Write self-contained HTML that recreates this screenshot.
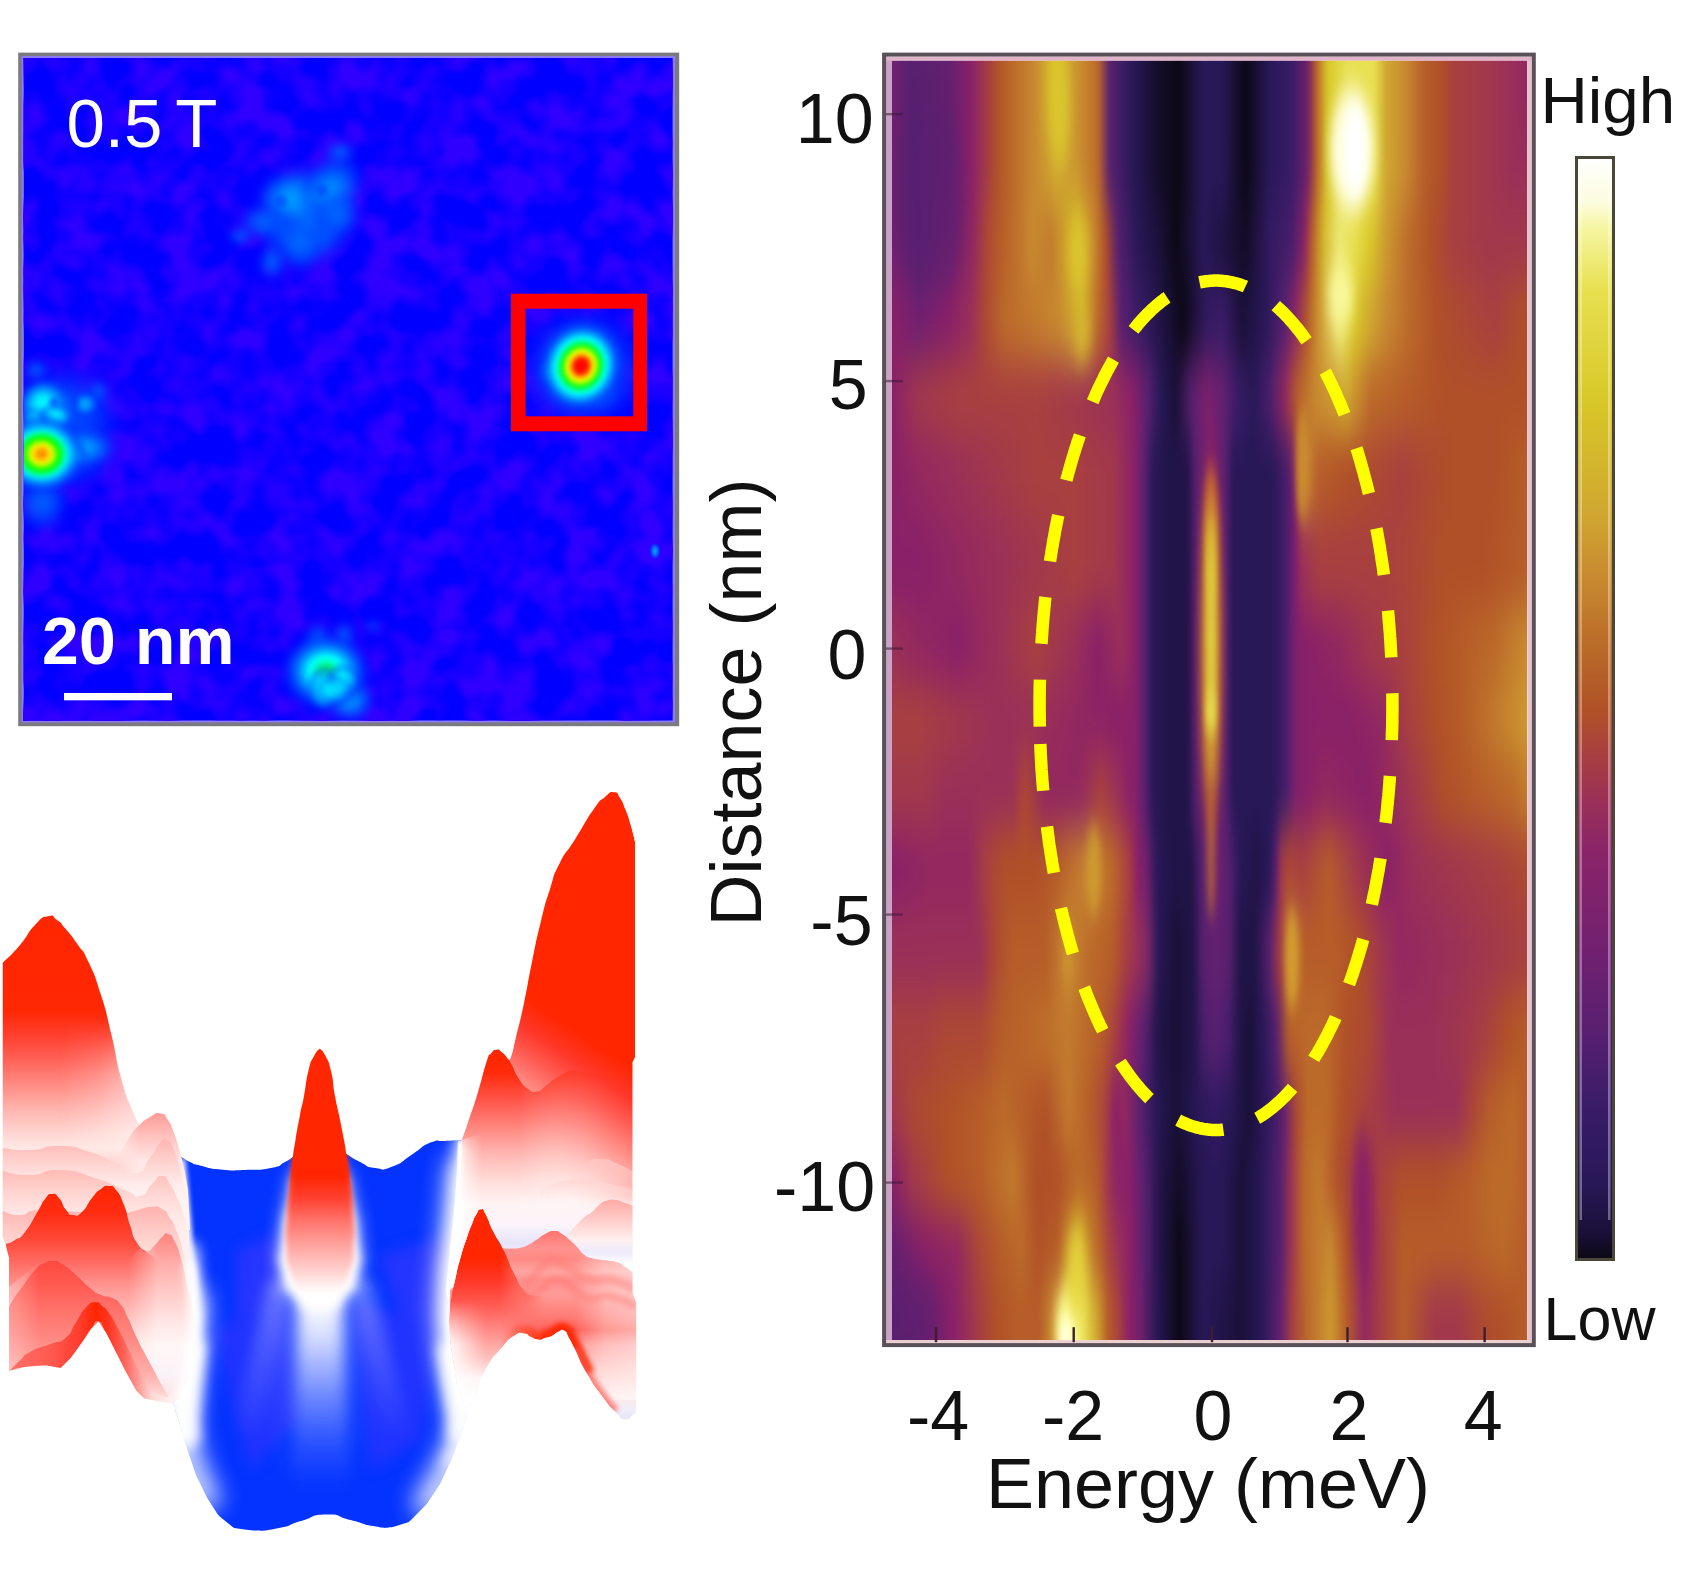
<!DOCTYPE html>
<html><head><meta charset="utf-8"><title>figure</title>
<style>
html,body{margin:0;padding:0;background:#fff;}
body{width:1696px;height:1582px;overflow:hidden;}
svg{display:block;}
text{font-family:"Liberation Sans",sans-serif;}
</style></head><body>
<svg width="1696" height="1582" viewBox="0 0 1696 1582">
<rect width="1696" height="1582" fill="#fff"/>
<defs><filter id="fb1" color-interpolation-filters="sRGB" filterUnits="userSpaceOnUse" x="-40" y="760" width="760" height="820"><feGaussianBlur stdDeviation="1.2"/></filter><filter id="fb2" color-interpolation-filters="sRGB" filterUnits="userSpaceOnUse" x="-40" y="760" width="760" height="820"><feGaussianBlur stdDeviation="2.5"/></filter><filter id="fb4" color-interpolation-filters="sRGB" filterUnits="userSpaceOnUse" x="-40" y="760" width="760" height="820"><feGaussianBlur stdDeviation="4.5"/></filter><filter id="fb7" color-interpolation-filters="sRGB" filterUnits="userSpaceOnUse" x="-40" y="760" width="760" height="820"><feGaussianBlur stdDeviation="7"/></filter><filter id="fb12" color-interpolation-filters="sRGB" filterUnits="userSpaceOnUse" x="-40" y="760" width="760" height="820"><feGaussianBlur stdDeviation="12"/></filter><clipPath id="cbasin"><path d="M180.0,1156.0C183.3,1158.0 183.3,1158.8 190.0,1162.0C196.7,1165.2 189.8,1163.0 200.0,1165.5C210.2,1168.0 205.7,1168.1 220.7,1169.6C235.7,1171.1 228.2,1170.5 245.0,1170.0C261.8,1169.5 257.7,1170.7 271.0,1168.0C284.3,1165.3 277.3,1166.0 285.0,1162.0C292.7,1158.0 291.0,1158.0 294.0,1156.0L345,1153C350.0,1156.0 350.0,1157.0 360.0,1162.0C370.0,1167.0 364.2,1166.5 375.0,1168.0C385.8,1169.5 379.9,1171.3 392.5,1166.6C405.1,1161.9 400.1,1162.0 412.8,1154.0C425.5,1146.0 419.8,1146.9 430.5,1142.6C441.2,1138.3 434.5,1141.7 445.0,1141.0C455.5,1140.3 456.3,1140.7 462.0,1140.5L475.0,1170.0L473.0,1200.0L469.0,1240.0L464.0,1290.0L464.0,1340.0L471.0,1385.0L480.0,1412.0L490,1368C487.6,1371.7 488.9,1367.1 482.8,1379.0C476.7,1390.9 478.3,1386.6 471.6,1403.6C464.9,1420.6 469.3,1411.3 462.6,1430.0C455.9,1448.7 459.0,1441.6 451.5,1459.6C444.0,1477.6 448.2,1469.2 440.0,1484.0C431.8,1498.8 437.1,1491.3 426.8,1504.0C416.5,1516.7 420.3,1514.3 409.0,1522.0C397.7,1529.7 405.0,1525.7 393.0,1527.0C381.0,1528.3 387.1,1528.3 373.0,1526.0C358.9,1523.7 366.3,1523.8 350.6,1520.0C334.9,1516.2 342.5,1514.2 326.0,1514.5C309.5,1514.8 316.7,1516.5 301.0,1521.0C285.3,1525.5 295.3,1524.8 279.0,1528.0C262.7,1531.2 267.0,1530.6 252.0,1530.6C237.0,1530.6 245.2,1533.0 234.0,1528.0C222.8,1523.0 227.4,1525.7 218.4,1515.6C209.4,1505.5 214.5,1511.2 207.0,1497.7C199.5,1484.2 203.4,1493.7 196.0,1475.0C188.6,1456.3 191.1,1461.4 184.8,1441.7C178.5,1422.0 181.9,1429.9 177.0,1416.0C172.1,1402.1 179.0,1412.0 170.0,1400.0C161.0,1388.0 156.7,1386.7 150.0,1380.0L166.0,1380.0L176.0,1340.0L179.0,1300.0L176.0,1250.0L172.0,1200.0Z"/></clipPath><linearGradient id="gstreak" gradientUnits="userSpaceOnUse" x1="0" y1="1290" x2="0" y2="1500"><stop offset="0.0000" stop-color="#ffffff" stop-opacity="1"/><stop offset="0.1905" stop-color="#ffffff" stop-opacity="0.8"/><stop offset="0.3571" stop-color="#ffffff" stop-opacity="0.52"/><stop offset="0.5238" stop-color="#ffffff" stop-opacity="0.3"/><stop offset="0.7143" stop-color="#ffffff" stop-opacity="0.12"/><stop offset="0.9048" stop-color="#ffffff" stop-opacity="0.02"/><stop offset="1.0000" stop-color="#ffffff" stop-opacity="0"/></linearGradient><linearGradient id="gstreak2" gradientUnits="userSpaceOnUse" x1="0" y1="1280" x2="0" y2="1440"><stop offset="0.0000" stop-color="#ffffff" stop-opacity="0.32"/><stop offset="0.5000" stop-color="#ffffff" stop-opacity="0.16"/><stop offset="1.0000" stop-color="#ffffff" stop-opacity="0"/></linearGradient><linearGradient id="gpeak" gradientUnits="userSpaceOnUse" x1="0" y1="1049" x2="0" y2="1305"><stop offset="0.0000" stop-color="#ff2600"/><stop offset="0.4961" stop-color="#ff2600"/><stop offset="0.5820" stop-color="#ff4030"/><stop offset="0.6758" stop-color="#ff766e"/><stop offset="0.7734" stop-color="#ffa6a2"/><stop offset="0.8711" stop-color="#ffd4d2"/><stop offset="0.9531" stop-color="#ffffff"/><stop offset="1.0000" stop-color="#ffffff"/></linearGradient><clipPath id="cpk"><rect x="250" y="1000" width="140" height="205"/></clipPath><linearGradient id="gpkfade" gradientUnits="userSpaceOnUse" x1="0" y1="1160" x2="0" y2="1205"><stop offset="0" stop-color="#fff"/><stop offset="1" stop-color="#000"/></linearGradient><mask id="mpk" maskUnits="userSpaceOnUse" x="250" y="1000" width="140" height="260"><rect x="250" y="1000" width="140" height="260" fill="url(#gpkfade)"/></mask><linearGradient id="ghill" gradientUnits="userSpaceOnUse" x1="575" y1="790" x2="339.7" y2="1142.8"><stop offset="0.0000" stop-color="#ff2600"/><stop offset="0.4706" stop-color="#ff2600"/><stop offset="0.5333" stop-color="#ff382a"/><stop offset="0.5882" stop-color="#ff5e56"/><stop offset="0.6392" stop-color="#ff8880"/><stop offset="0.6882" stop-color="#ffaeaa"/><stop offset="0.7373" stop-color="#ffd2ce"/><stop offset="0.7784" stop-color="#ffe8e6"/><stop offset="0.8118" stop-color="#fff4f4"/><stop offset="0.8529" stop-color="#fbf4fa"/><stop offset="0.8882" stop-color="#e6e4fa"/><stop offset="0.9059" stop-color="#eeeafc"/><stop offset="0.9294" stop-color="#ffffff"/><stop offset="1.0000" stop-color="#ffffff"/></linearGradient><linearGradient id="gsmall" gradientUnits="userSpaceOnUse" x1="0" y1="1050" x2="0" y2="1300"><stop offset="0.0000" stop-color="#ff2600"/><stop offset="0.0880" stop-color="#ff2a08"/><stop offset="0.2000" stop-color="#ff544a"/><stop offset="0.3120" stop-color="#ff8880"/><stop offset="0.4160" stop-color="#ffb6b2"/><stop offset="0.5160" stop-color="#ffdad6"/><stop offset="0.6160" stop-color="#fff4f4"/><stop offset="0.7000" stop-color="#fbf4fa"/><stop offset="0.7720" stop-color="#e6e4fa"/><stop offset="0.8080" stop-color="#eeeafc"/><stop offset="0.8560" stop-color="#ffffff"/><stop offset="1.0000" stop-color="#ffffff"/></linearGradient><linearGradient id="gfoldm" gradientUnits="userSpaceOnUse" x1="520" y1="0" x2="600" y2="0"><stop offset="0" stop-color="#fff"/><stop offset="1" stop-color="#000"/></linearGradient><mask id="mfold" maskUnits="userSpaceOnUse" x="430" y="1000" width="220" height="320"><rect x="430" y="1000" width="220" height="320" fill="url(#gfoldm)"/></mask><linearGradient id="gfootR" gradientUnits="userSpaceOnUse" x1="448" y1="0" x2="482" y2="0"><stop offset="0.0000" stop-color="#ffffff" stop-opacity="1"/><stop offset="0.3529" stop-color="#ffffff" stop-opacity="0.9"/><stop offset="0.5882" stop-color="#ffffff" stop-opacity="0.45"/><stop offset="1.0000" stop-color="#ffffff" stop-opacity="0"/></linearGradient><clipPath id="cfootR"><path d="M440,1141 L461.5,1141 L466,1128 L520,1128 L520,1300 L440,1300 Z"/></clipPath><linearGradient id="gfootRv" gradientUnits="userSpaceOnUse" x1="0" y1="1120" x2="0" y2="1300"><stop offset="0.0000" stop-color="#000000"/><stop offset="0.1667" stop-color="#ffffff"/><stop offset="1.0000" stop-color="#ffffff"/></linearGradient><mask id="mfootR" maskUnits="userSpaceOnUse" x="430" y="1100" width="100" height="220"><rect x="430" y="1100" width="100" height="220" fill="url(#gfootRv)"/></mask><linearGradient id="gband" gradientUnits="userSpaceOnUse" x1="0" y1="1196" x2="0" y2="1300"><stop offset="0.0000" stop-color="#fff4f4" stop-opacity="0"/><stop offset="0.1538" stop-color="#fdf4f6" stop-opacity="1"/><stop offset="0.2788" stop-color="#fbf4fa" stop-opacity="1"/><stop offset="0.4519" stop-color="#e6e4fa" stop-opacity="1"/><stop offset="0.5385" stop-color="#eeeafc" stop-opacity="1"/><stop offset="0.6538" stop-color="#ffffff" stop-opacity="1"/><stop offset="1.0000" stop-color="#ffffff" stop-opacity="1"/></linearGradient><linearGradient id="gr1" gradientUnits="userSpaceOnUse" x1="0" y1="1159" x2="0" y2="1185"><stop offset="0.0000" stop-color="#ffc4c0" stop-opacity="0.9"/><stop offset="1.0000" stop-color="#ffe0dc" stop-opacity="0"/></linearGradient><linearGradient id="gr1b" gradientUnits="userSpaceOnUse" x1="0" y1="1176" x2="0" y2="1200"><stop offset="0.0000" stop-color="#ffd0cc" stop-opacity="0.9"/><stop offset="1.0000" stop-color="#ffe8e6" stop-opacity="0"/></linearGradient><linearGradient id="gr2" gradientUnits="userSpaceOnUse" x1="0" y1="1200" x2="0" y2="1256"><stop offset="0.0000" stop-color="#ffaaa6"/><stop offset="0.3929" stop-color="#ffd0cc"/><stop offset="0.7143" stop-color="#fff0f0"/><stop offset="0.8929" stop-color="#f0ecfc"/><stop offset="1.0000" stop-color="#f0ecfc" stop-opacity="0"/></linearGradient><linearGradient id="gr3" gradientUnits="userSpaceOnUse" x1="0" y1="1231" x2="0" y2="1420"><stop offset="0.0000" stop-color="#ff746e"/><stop offset="0.0899" stop-color="#ff928e"/><stop offset="0.1481" stop-color="#ff8a84"/><stop offset="0.2169" stop-color="#ffa6a2"/><stop offset="0.2593" stop-color="#ff928e"/><stop offset="0.3280" stop-color="#ff9c98"/><stop offset="0.3968" stop-color="#ff8a84"/><stop offset="0.4603" stop-color="#ff7a74"/><stop offset="0.5238" stop-color="#ff6058"/><stop offset="0.6032" stop-color="#ff9c98"/><stop offset="0.7302" stop-color="#ffc4c0"/><stop offset="0.8624" stop-color="#ffe8e8"/><stop offset="0.9471" stop-color="#f0eefa"/><stop offset="1.0000" stop-color="#e4e4fa"/></linearGradient><clipPath id="cr3"><path d="M500.0,1249.0C501.2,1248.9 499.7,1248.8 503.7,1248.6C507.7,1248.4 506.1,1248.9 512.0,1248.5C517.9,1248.1 515.7,1248.7 521.4,1247.4C527.1,1246.1 523.9,1247.0 529.0,1244.5C534.1,1242.0 531.3,1243.3 536.6,1239.8C541.9,1236.3 539.1,1236.9 545.0,1234.0C550.9,1231.1 548.6,1231.0 554.3,1231.0C560.0,1231.0 557.0,1231.1 562.0,1234.0C567.0,1236.9 564.4,1235.5 569.4,1239.8C574.4,1244.1 571.9,1241.9 577.0,1247.0C582.1,1252.1 579.3,1251.2 584.6,1255.0C589.9,1258.8 587.1,1256.8 593.0,1258.5C598.9,1260.2 596.6,1259.2 602.3,1260.0C608.0,1260.8 604.9,1260.1 610.0,1261.0C615.1,1261.9 612.5,1260.6 617.5,1262.6C622.5,1264.6 619.9,1263.6 625.0,1267.0C630.1,1270.4 630.1,1270.8 632.7,1272.7L632.7,1293 L636.5,1303 L636.5,1412L634,1414C631.0,1415.8 631.3,1420.1 625.0,1419.4C618.7,1418.7 622.6,1419.4 615.0,1411.8C607.4,1404.2 611.6,1409.3 602.3,1396.6C593.0,1383.9 596.3,1389.8 587.0,1373.8C577.7,1357.8 580.5,1360.4 574.5,1348.5C568.5,1336.6 572.4,1343.9 569.0,1338.0C565.6,1332.1 568.1,1332.8 564.4,1330.8C560.7,1328.8 562.2,1330.3 558.0,1332.0C553.8,1333.7 556.0,1334.0 551.7,1336.0C547.4,1338.0 549.2,1336.8 545.0,1338.0C540.8,1339.2 543.7,1340.0 539.0,1339.7C534.3,1339.4 536.0,1339.1 531.0,1337.0C526.0,1334.9 529.7,1333.7 524.0,1333.4C518.3,1333.1 521.5,1331.0 513.8,1336.0C506.1,1341.0 510.3,1337.6 501.0,1348.5C491.7,1359.4 494.4,1353.6 486.0,1368.8C477.6,1384.0 481.9,1379.6 475.9,1394.0C469.9,1408.4 470.6,1406.0 468.0,1412.0L466,1412 L457,1385 L450,1340 L450,1290 L500,1249 Z"/></clipPath><linearGradient id="gr3h" gradientUnits="userSpaceOnUse" x1="575" y1="0" x2="640" y2="0"><stop offset="0.0000" stop-color="#ffffff" stop-opacity="0"/><stop offset="0.4615" stop-color="#ffffff" stop-opacity="0.35"/><stop offset="1.0000" stop-color="#ffffff" stop-opacity="0.5"/></linearGradient><linearGradient id="gr4" gradientUnits="userSpaceOnUse" x1="0" y1="1209" x2="0" y2="1400"><stop offset="0.0000" stop-color="#ff2600"/><stop offset="0.2565" stop-color="#ff2600"/><stop offset="0.3874" stop-color="#ff3a2c"/><stop offset="0.5183" stop-color="#ff6058"/><stop offset="0.6492" stop-color="#ff908c"/><stop offset="0.7801" stop-color="#ffc0bc"/><stop offset="0.8848" stop-color="#fff4f4"/><stop offset="1.0000" stop-color="#ffffff"/></linearGradient><linearGradient id="gr4m" gradientUnits="userSpaceOnUse" x1="500" y1="0" x2="545" y2="0"><stop offset="0" stop-color="#fff"/><stop offset="1" stop-color="#000"/></linearGradient><mask id="mr4" maskUnits="userSpaceOnUse" x="430" y="1190" width="140" height="240"><rect x="430" y="1190" width="140" height="240" fill="url(#gr4m)"/></mask><clipPath id="cr3x"><path d="M449.0,1322.0C449.7,1314.7 448.8,1314.7 451.0,1300.0C453.2,1285.3 452.2,1292.7 455.5,1278.0C458.8,1263.3 457.2,1269.5 461.0,1256.0C464.8,1242.5 463.3,1248.1 467.0,1237.4C470.7,1226.7 469.0,1231.5 472.0,1224.0C475.0,1216.5 473.0,1219.9 476.0,1215.0C479.0,1210.1 477.7,1209.3 481.0,1209.3C484.3,1209.3 481.8,1207.4 486.0,1215.0C490.2,1222.6 487.7,1220.3 493.6,1232.0C499.5,1243.7 497.0,1236.4 503.7,1250.0C510.4,1263.6 507.0,1259.4 513.8,1272.7C520.6,1286.0 517.3,1282.2 524.0,1290.0C530.7,1297.8 530.7,1294.0 534.0,1296.0L545,1296 L545,1345L539,1339.7 L531,1337 L524,1333.4 L513.8,1336 L501,1348.5 L486,1368.8 L475.9,1394 L468,1412 L466,1412 L457,1385 L450,1340 Z"/></clipPath><linearGradient id="gfootR4" gradientUnits="userSpaceOnUse" x1="446" y1="0" x2="486" y2="0"><stop offset="0.0000" stop-color="#ffffff" stop-opacity="1"/><stop offset="0.2500" stop-color="#ffffff" stop-opacity="0.8"/><stop offset="0.5500" stop-color="#ffffff" stop-opacity="0.45"/><stop offset="1.0000" stop-color="#ffffff" stop-opacity="0"/></linearGradient><linearGradient id="gfootR4v" gradientUnits="userSpaceOnUse" x1="0" y1="1300" x2="0" y2="1420"><stop offset="0.0000" stop-color="#000000"/><stop offset="0.3750" stop-color="#ffffff"/><stop offset="1.0000" stop-color="#ffffff"/></linearGradient><mask id="mfootR4" maskUnits="userSpaceOnUse" x="430" y="1290" width="80" height="140"><rect x="430" y="1290" width="80" height="140" fill="url(#gfootR4v)"/></mask><linearGradient id="ghillA" gradientUnits="userSpaceOnUse" x1="0" y1="916" x2="0" y2="1260"><stop offset="0.0000" stop-color="#ff2600"/><stop offset="0.2791" stop-color="#ff2804"/><stop offset="0.3488" stop-color="#ff4030"/><stop offset="0.4186" stop-color="#ff6258"/><stop offset="0.4913" stop-color="#ff8c84"/><stop offset="0.5581" stop-color="#ffb2ac"/><stop offset="0.6279" stop-color="#ffd4d0"/><stop offset="0.6744" stop-color="#ffe8e4"/><stop offset="0.7238" stop-color="#ffd4d0"/><stop offset="1.0000" stop-color="#ffc4c0"/></linearGradient><linearGradient id="gflankA" gradientUnits="userSpaceOnUse" x1="60" y1="0" x2="145" y2="0"><stop offset="0.0000" stop-color="#ffffff" stop-opacity="0"/><stop offset="0.4706" stop-color="#ffffff" stop-opacity="0.18"/><stop offset="0.7647" stop-color="#ffffff" stop-opacity="0.4"/><stop offset="1.0000" stop-color="#ffffff" stop-opacity="0.55"/></linearGradient><clipPath id="chillA"><path d="M2.5,963.0C8.3,957.0 9.2,957.7 20.0,945.0C30.8,932.3 25.7,934.6 35.0,925.0C44.3,915.4 40.7,918.0 48.0,916.3C55.3,914.6 51.1,915.8 57.0,920.0C62.9,924.2 58.7,920.7 65.7,929.0C72.7,937.3 70.4,934.0 78.0,945.0C85.6,956.0 80.8,945.3 88.5,962.0C96.2,978.7 93.5,971.3 101.0,995.0C108.5,1018.7 104.3,1005.3 111.0,1033.0C117.7,1060.7 114.2,1052.8 121.0,1078.0C127.8,1103.2 125.5,1093.3 131.5,1108.6C137.5,1123.9 136.5,1118.9 139.0,1124.0L139,1260 L2.5,1260 Z"/></clipPath><linearGradient id="gflankAv" gradientUnits="userSpaceOnUse" x1="0" y1="1020" x2="0" y2="1160"><stop offset="0.0000" stop-color="#000000"/><stop offset="0.3929" stop-color="#ffffff"/><stop offset="0.8214" stop-color="#ffffff"/><stop offset="1.0000" stop-color="#000000"/></linearGradient><mask id="mflankA" maskUnits="userSpaceOnUse" x="0" y="1000" width="200" height="200"><rect x="0" y="1000" width="200" height="200" fill="url(#gflankAv)"/></mask><linearGradient id="gL1" gradientUnits="userSpaceOnUse" x1="0" y1="1113" x2="0" y2="1185"><stop offset="0.0000" stop-color="#ff9a98"/><stop offset="0.3056" stop-color="#ffc0bc"/><stop offset="0.6528" stop-color="#ffe6e4"/><stop offset="1.0000" stop-color="#fff2f0"/></linearGradient><linearGradient id="gL1m" gradientUnits="userSpaceOnUse" x1="112" y1="0" x2="139" y2="0"><stop offset="0" stop-color="#000"/><stop offset="1" stop-color="#fff"/></linearGradient><mask id="mL1" maskUnits="userSpaceOnUse" x="100" y="1090" width="120" height="160"><rect x="100" y="1090" width="120" height="160" fill="url(#gL1m)"/></mask><linearGradient id="gL2" gradientUnits="userSpaceOnUse" x1="0" y1="1138" x2="0" y2="1200"><stop offset="0.0000" stop-color="#ffb4b0"/><stop offset="0.3548" stop-color="#ffd0cc"/><stop offset="0.7581" stop-color="#ffeceb"/><stop offset="1.0000" stop-color="#fff4f3"/></linearGradient><linearGradient id="gL3" gradientUnits="userSpaceOnUse" x1="0" y1="1168" x2="0" y2="1240"><stop offset="0.0000" stop-color="#ffb8b4"/><stop offset="0.3056" stop-color="#ffd2ce"/><stop offset="0.6528" stop-color="#ffe8e6"/><stop offset="1.0000" stop-color="#fff0ee"/></linearGradient><linearGradient id="gL4" gradientUnits="userSpaceOnUse" x1="0" y1="1205" x2="0" y2="1270"><stop offset="0.0000" stop-color="#ffb0ac"/><stop offset="0.3538" stop-color="#ffc8c4"/><stop offset="0.6923" stop-color="#ffdcd8"/><stop offset="1.0000" stop-color="#ffe8e6"/></linearGradient><linearGradient id="gF" gradientUnits="userSpaceOnUse" x1="0" y1="1186" x2="0" y2="1405"><stop offset="0.0000" stop-color="#ff2600"/><stop offset="0.1187" stop-color="#ff2c10"/><stop offset="0.2466" stop-color="#ff4838"/><stop offset="0.3607" stop-color="#ff7068"/><stop offset="0.4749" stop-color="#ff9c98"/><stop offset="0.6119" stop-color="#ffc4c0"/><stop offset="0.7260" stop-color="#ffe8e8"/><stop offset="0.8174" stop-color="#fff6f6"/><stop offset="0.9087" stop-color="#ffe8e8"/><stop offset="1.0000" stop-color="#ffd4d4"/></linearGradient><linearGradient id="gF2" gradientUnits="userSpaceOnUse" x1="0" y1="1234" x2="0" y2="1405"><stop offset="0.0000" stop-color="#ff8480"/><stop offset="0.1520" stop-color="#ffa8a4"/><stop offset="0.3275" stop-color="#ffc8c4"/><stop offset="0.5029" stop-color="#ffe4e4"/><stop offset="0.6491" stop-color="#fff6f6"/><stop offset="0.8246" stop-color="#fbf2f8"/><stop offset="1.0000" stop-color="#ffdede"/></linearGradient><linearGradient id="gF2m" gradientUnits="userSpaceOnUse" x1="128" y1="0" x2="158" y2="0"><stop offset="0" stop-color="#000"/><stop offset="1" stop-color="#fff"/></linearGradient><mask id="mF2" maskUnits="userSpaceOnUse" x="100" y="1200" width="120" height="240"><rect x="100" y="1200" width="120" height="240" fill="url(#gF2m)"/></mask><linearGradient id="gG1" gradientUnits="userSpaceOnUse" x1="0" y1="1261" x2="0" y2="1410"><stop offset="0.0000" stop-color="#ff4a40"/><stop offset="0.1611" stop-color="#ff5a50"/><stop offset="0.2953" stop-color="#ff6e66"/><stop offset="0.5302" stop-color="#ff8a84"/><stop offset="0.7651" stop-color="#ffb0ac"/><stop offset="0.9329" stop-color="#ffe0e0"/><stop offset="1.0000" stop-color="#fff0f0"/></linearGradient><linearGradient id="gG1h" gradientUnits="userSpaceOnUse" x1="5" y1="0" x2="40" y2="0"><stop offset="0.0000" stop-color="#ffffff" stop-opacity="0.3"/><stop offset="1.0000" stop-color="#ffffff" stop-opacity="0"/></linearGradient><linearGradient id="gG2" gradientUnits="userSpaceOnUse" x1="10" y1="0" x2="172" y2="0"><stop offset="0.0000" stop-color="#ff7068"/><stop offset="0.2469" stop-color="#ff5a50"/><stop offset="0.4321" stop-color="#ff3c2c"/><stop offset="0.5309" stop-color="#ff2600"/><stop offset="0.6049" stop-color="#ff3420"/><stop offset="0.7099" stop-color="#ff665c"/><stop offset="0.8025" stop-color="#ffa29c"/><stop offset="0.8765" stop-color="#ffd8d4"/><stop offset="1.0000" stop-color="#fff2f2"/></linearGradient></defs>
<g><path d="M180.0,1156.0C183.3,1158.0 183.3,1158.8 190.0,1162.0C196.7,1165.2 189.8,1163.0 200.0,1165.5C210.2,1168.0 205.7,1168.1 220.7,1169.6C235.7,1171.1 228.2,1170.5 245.0,1170.0C261.8,1169.5 257.7,1170.7 271.0,1168.0C284.3,1165.3 277.3,1166.0 285.0,1162.0C292.7,1158.0 291.0,1158.0 294.0,1156.0L345,1153C350.0,1156.0 350.0,1157.0 360.0,1162.0C370.0,1167.0 364.2,1166.5 375.0,1168.0C385.8,1169.5 379.9,1171.3 392.5,1166.6C405.1,1161.9 400.1,1162.0 412.8,1154.0C425.5,1146.0 419.8,1146.9 430.5,1142.6C441.2,1138.3 434.5,1141.7 445.0,1141.0C455.5,1140.3 456.3,1140.7 462.0,1140.5L475.0,1170.0L473.0,1200.0L469.0,1240.0L464.0,1290.0L464.0,1340.0L471.0,1385.0L480.0,1412.0L490,1368C487.6,1371.7 488.9,1367.1 482.8,1379.0C476.7,1390.9 478.3,1386.6 471.6,1403.6C464.9,1420.6 469.3,1411.3 462.6,1430.0C455.9,1448.7 459.0,1441.6 451.5,1459.6C444.0,1477.6 448.2,1469.2 440.0,1484.0C431.8,1498.8 437.1,1491.3 426.8,1504.0C416.5,1516.7 420.3,1514.3 409.0,1522.0C397.7,1529.7 405.0,1525.7 393.0,1527.0C381.0,1528.3 387.1,1528.3 373.0,1526.0C358.9,1523.7 366.3,1523.8 350.6,1520.0C334.9,1516.2 342.5,1514.2 326.0,1514.5C309.5,1514.8 316.7,1516.5 301.0,1521.0C285.3,1525.5 295.3,1524.8 279.0,1528.0C262.7,1531.2 267.0,1530.6 252.0,1530.6C237.0,1530.6 245.2,1533.0 234.0,1528.0C222.8,1523.0 227.4,1525.7 218.4,1515.6C209.4,1505.5 214.5,1511.2 207.0,1497.7C199.5,1484.2 203.4,1493.7 196.0,1475.0C188.6,1456.3 191.1,1461.4 184.8,1441.7C178.5,1422.0 181.9,1429.9 177.0,1416.0C172.1,1402.1 179.0,1412.0 170.0,1400.0C161.0,1388.0 156.7,1386.7 150.0,1380.0L166.0,1380.0L176.0,1340.0L179.0,1300.0L176.0,1250.0L172.0,1200.0Z" fill="#0433ff" />
<g clip-path="url(#cbasin)" filter="url(#fb7)" opacity="0.55">
<path d="M238,1250 L280,1232 L286,1300 L262,1312 L236,1330 Z" fill="#4438ff" />
<path d="M215,1330 L290,1300 L296,1420 L250,1470 Z" fill="#3a34ff" />
<path d="M380,1255 L452,1235 L448,1330 L400,1318 Z" fill="#4038ff" />
<path d="M352,1300 L440,1330 L420,1440 L372,1470 Z" fill="#3a34ff" />
</g>
<g clip-path="url(#cbasin)">
<path d="M182.0,1159.0C183.3,1172.7 183.3,1169.7 186.0,1200.0C188.7,1230.3 187.7,1216.7 190.0,1250.0C192.3,1283.3 193.0,1270.0 193.0,1300.0C193.0,1330.0 194.3,1313.3 190.0,1340.0C185.7,1366.7 186.0,1358.7 180.0,1380.0C174.0,1401.3 174.7,1396.0 172.0,1404.0" fill="none" stroke="#fff" stroke-width="6" filter="url(#fb2)"/>
<path d="M190.0,1250.0C191.0,1266.7 192.7,1270.0 193.0,1300.0C193.3,1330.0 193.0,1315.0 191.0,1340.0C189.0,1365.0 189.3,1353.7 187.0,1375.0C184.7,1396.3 185.3,1387.3 184.0,1404.0C182.7,1420.7 182.7,1412.0 183.0,1425.0C183.3,1438.0 184.3,1437.0 185.0,1443.0" fill="none" stroke="#fff" stroke-width="16" stroke-linecap="round" filter="url(#fb7)" opacity="0.9"/>
<path d="M191.0,1340.0C189.7,1351.7 189.3,1353.7 187.0,1375.0C184.7,1396.3 185.3,1387.3 184.0,1404.0C182.7,1420.7 182.7,1412.0 183.0,1425.0C183.3,1438.0 184.3,1437.0 185.0,1443.0" fill="none" stroke="#fff" stroke-width="30" filter="url(#fb7)" opacity="0.95"/>
<path d="M193.0,1300.0C192.3,1313.3 193.0,1315.0 191.0,1340.0C189.0,1365.0 189.3,1353.7 187.0,1375.0C184.7,1396.3 185.3,1387.3 184.0,1404.0C182.7,1420.7 182.7,1412.0 183.0,1425.0C183.3,1438.0 181.0,1426.0 185.0,1443.0C189.0,1460.0 188.0,1457.7 195.0,1476.0C202.0,1494.3 202.3,1490.7 206.0,1498.0" fill="none" stroke="#fff" stroke-width="26" stroke-linecap="round" filter="url(#fb12)" opacity="0.9"/>
<path d="M462.0,1141.0C461.7,1150.7 462.0,1150.3 461.0,1170.0C460.0,1189.7 461.0,1176.7 459.0,1200.0C457.0,1223.3 458.0,1210.0 455.0,1240.0C452.0,1270.0 451.7,1256.7 450.0,1290.0C448.3,1323.3 447.7,1308.3 450.0,1340.0C452.3,1371.7 451.7,1361.0 457.0,1385.0C462.3,1409.0 463.0,1403.0 466.0,1412.0" fill="none" stroke="#fff" stroke-width="6" filter="url(#fb2)"/>
<path d="M462.0,1141.0C461.7,1150.7 462.0,1150.3 461.0,1170.0C460.0,1189.7 461.0,1176.7 459.0,1200.0C457.0,1223.3 458.0,1210.0 455.0,1240.0C452.0,1270.0 451.3,1255.7 450.0,1290.0C448.7,1324.3 448.0,1308.3 451.0,1343.0C454.0,1377.7 455.0,1368.3 459.0,1394.0C463.0,1419.7 462.3,1404.3 463.0,1420.0C463.7,1435.7 464.8,1427.3 461.0,1441.0C457.2,1454.7 454.7,1454.3 451.5,1461.0" fill="none" stroke="#fff" stroke-width="16" stroke-linecap="round" filter="url(#fb7)" opacity="0.8"/>
<path d="M451.0,1343.0C453.7,1360.0 455.0,1368.3 459.0,1394.0C463.0,1419.7 462.3,1404.3 463.0,1420.0C463.7,1435.7 461.7,1434.0 461.0,1441.0" fill="none" stroke="#fff" stroke-width="28" filter="url(#fb7)" opacity="0.9"/>
<path d="M461.0,1170.0C460.3,1180.0 461.0,1176.7 459.0,1200.0C457.0,1223.3 458.0,1210.0 455.0,1240.0C452.0,1270.0 451.3,1255.7 450.0,1290.0C448.7,1324.3 448.0,1308.3 451.0,1343.0C454.0,1377.7 455.0,1368.3 459.0,1394.0C463.0,1419.7 462.3,1404.3 463.0,1420.0C463.7,1435.7 464.8,1427.3 461.0,1441.0C457.2,1454.7 458.5,1446.3 451.5,1461.0C444.5,1475.7 447.8,1471.0 440.0,1485.0C432.2,1499.0 432.0,1497.0 428.0,1503.0" fill="none" stroke="#fff" stroke-width="28" stroke-linecap="round" filter="url(#fb12)" opacity="0.9"/>
<path d="M320.0,1150.0C312.7,1156.7 308.7,1153.3 298.0,1170.0C287.3,1186.7 293.7,1176.7 288.0,1200.0C282.3,1223.3 283.3,1216.0 281.0,1240.0C278.7,1264.0 276.7,1252.7 281.0,1272.0C285.3,1291.3 281.0,1285.3 294.0,1298.0C307.0,1310.7 302.7,1310.0 320.0,1310.0C337.3,1310.0 333.0,1310.7 346.0,1298.0C359.0,1285.3 354.7,1291.3 359.0,1272.0C363.3,1252.7 361.3,1264.0 359.0,1240.0C356.7,1216.0 357.7,1223.3 352.0,1200.0C346.3,1176.7 352.7,1186.7 342.0,1170.0C331.3,1153.3 327.3,1156.7 320.0,1150.0Z" fill="#fff" filter="url(#fb4)"/>
<path d="M320.0,1150.0C312.7,1156.7 308.7,1153.3 298.0,1170.0C287.3,1186.7 293.7,1176.7 288.0,1200.0C282.3,1223.3 283.3,1216.0 281.0,1240.0C278.7,1264.0 276.7,1252.7 281.0,1272.0C285.3,1291.3 281.0,1285.3 294.0,1298.0C307.0,1310.7 302.7,1310.0 320.0,1310.0C337.3,1310.0 333.0,1310.7 346.0,1298.0C359.0,1285.3 354.7,1291.3 359.0,1272.0C363.3,1252.7 361.3,1264.0 359.0,1240.0C356.7,1216.0 357.7,1223.3 352.0,1200.0C346.3,1176.7 352.7,1186.7 342.0,1170.0C331.3,1153.3 327.3,1156.7 320.0,1150.0Z" fill="none" stroke="#fff" stroke-width="12" filter="url(#fb7)" opacity="0.4"/>
<path d="M300,1290 L340,1290 L350,1500 L292,1500 Z" fill="url(#gstreak)" filter="url(#fb7)"/>
<path d="M290,1300 L350,1300 L366,1480 L276,1480 Z" fill="url(#gstreak)" filter="url(#fb12)" opacity="0.45"/>
<path d="M268,1280 L290,1280 L262,1440 L232,1440 Z" fill="url(#gstreak2)" filter="url(#fb7)"/>
<path d="M350,1280 L372,1280 L412,1440 L382,1440 Z" fill="url(#gstreak2)" filter="url(#fb7)"/>
</g>
<g clip-path="url(#cbasin)">
<path d="M319.8,1048.5C317.9,1051.0 317.8,1048.5 314.0,1056.0C310.2,1063.5 311.7,1057.7 308.4,1071.0C305.1,1084.3 306.8,1081.3 304.0,1096.0C301.2,1110.7 302.8,1100.3 300.0,1115.0C297.2,1129.7 297.9,1125.3 295.5,1140.0C293.1,1154.7 294.5,1144.0 292.7,1159.0C290.9,1174.0 291.9,1166.3 290.0,1185.0C288.1,1203.7 288.3,1195.0 287.0,1215.0C285.7,1235.0 285.0,1226.0 286.0,1245.0C287.0,1264.0 284.7,1256.3 290.0,1272.0C295.3,1287.7 292.0,1282.7 302.0,1292.0C312.0,1301.3 308.0,1300.0 320.0,1300.0C332.0,1300.0 328.0,1301.3 338.0,1292.0C348.0,1282.7 344.7,1287.7 350.0,1272.0C355.3,1256.3 352.8,1264.0 354.0,1245.0C355.2,1226.0 354.7,1235.0 353.5,1215.0C352.3,1195.0 352.7,1203.7 350.5,1185.0C348.3,1166.3 349.2,1174.0 347.0,1159.0C344.8,1144.0 346.7,1154.7 344.0,1140.0C341.3,1125.3 342.0,1129.7 339.0,1115.0C336.0,1100.3 337.7,1110.7 335.0,1096.0C332.3,1081.3 334.2,1084.3 331.0,1071.0C327.8,1057.7 329.2,1063.5 325.5,1056.0C321.8,1048.5 321.7,1051.0 319.8,1048.5Z" fill="url(#gpeak)" filter="url(#fb2)"/>
</g>
<path d="M319.8,1048.5C317.9,1051.0 317.8,1048.5 314.0,1056.0C310.2,1063.5 311.7,1057.7 308.4,1071.0C305.1,1084.3 306.8,1081.3 304.0,1096.0C301.2,1110.7 302.8,1100.3 300.0,1115.0C297.2,1129.7 297.9,1125.3 295.5,1140.0C293.1,1154.7 294.5,1144.0 292.7,1159.0C290.9,1174.0 291.9,1166.3 290.0,1185.0C288.1,1203.7 288.3,1195.0 287.0,1215.0C285.7,1235.0 285.0,1226.0 286.0,1245.0C287.0,1264.0 284.7,1256.3 290.0,1272.0C295.3,1287.7 292.0,1282.7 302.0,1292.0C312.0,1301.3 308.0,1300.0 320.0,1300.0C332.0,1300.0 328.0,1301.3 338.0,1292.0C348.0,1282.7 344.7,1287.7 350.0,1272.0C355.3,1256.3 352.8,1264.0 354.0,1245.0C355.2,1226.0 354.7,1235.0 353.5,1215.0C352.3,1195.0 352.7,1203.7 350.5,1185.0C348.3,1166.3 349.2,1174.0 347.0,1159.0C344.8,1144.0 346.7,1154.7 344.0,1140.0C341.3,1125.3 342.0,1129.7 339.0,1115.0C336.0,1100.3 337.7,1110.7 335.0,1096.0C332.3,1081.3 334.2,1084.3 331.0,1071.0C327.8,1057.7 329.2,1063.5 325.5,1056.0C321.8,1048.5 321.7,1051.0 319.8,1048.5Z" fill="url(#gpeak)" mask="url(#mpk)"/>
<path d="M508.0,1060.0C509.2,1058.5 508.8,1063.1 511.5,1055.4C514.2,1047.7 511.8,1054.5 516.0,1037.0C520.2,1019.5 518.7,1028.0 524.0,1003.0C529.3,978.0 526.3,989.3 532.0,962.0C537.7,934.7 535.0,945.3 541.0,921.0C547.0,896.7 543.9,908.0 550.0,889.0C556.1,870.0 550.9,880.7 559.3,864.0C567.7,847.3 563.9,857.1 575.3,839.0C586.7,820.9 583.6,823.6 593.5,809.6C603.4,795.6 598.2,802.8 605.0,797.0C611.8,791.2 609.0,792.0 614.0,792.3C619.0,792.6 616.2,792.2 620.0,798.0C623.8,803.8 621.7,800.3 625.4,809.6C629.1,818.9 627.7,815.0 631.0,826.0C634.3,837.0 633.8,837.1 635.2,842.6L635.2,1057 L632.7,1062 L632.7,1300 L500,1300 Z" fill="url(#ghill)" />
<path d="M461.5,1141.0C463.8,1134.5 463.0,1137.2 468.3,1121.5C473.6,1105.8 471.3,1113.8 477.4,1094.0C483.5,1074.2 482.0,1075.5 486.5,1062.0C491.0,1048.5 487.6,1057.6 491.0,1053.5C494.4,1049.4 493.2,1050.3 496.7,1049.8C500.2,1049.3 498.1,1049.4 501.5,1052.0C504.9,1054.6 503.7,1053.5 507.0,1057.7C510.3,1061.9 507.7,1057.7 511.5,1064.5C515.3,1071.3 513.1,1070.0 518.4,1078.0C523.7,1086.0 521.4,1083.9 527.5,1088.4C533.6,1092.9 530.5,1092.2 536.6,1091.4C542.7,1090.6 539.2,1090.5 545.7,1086.0C552.2,1081.5 547.9,1083.3 556.0,1078.0C564.1,1072.7 565.3,1072.7 570.0,1070.0L600,1075 L600,1300 L448,1300L450.0,1290.0L455.0,1240.0L459.0,1200.0L461.0,1170.0L462.0,1141.0Z" fill="url(#gsmall)" mask="url(#mfold)"/>
<g clip-path="url(#cfootR)">
<path d="M458.0,1141.0L457.0,1170.0L455.0,1200.0L451.0,1240.0L446.0,1290.0L448,1300 L500,1300 L500,1128 Z" fill="url(#gfootR)" mask="url(#mfootR)"/>
</g>
<path d="M520,1196 L632.7,1196 L632.7,1300 L520,1300 Z" fill="url(#gband)" />
<path d="M570.0,1172.0C575.0,1169.0 574.3,1167.3 585.0,1163.0C595.7,1158.7 591.0,1158.7 602.0,1159.0C613.0,1159.3 607.8,1159.8 618.0,1164.0C628.2,1168.2 627.8,1169.0 632.7,1171.5L632.7,1190 L570,1190 Z" fill="url(#gr1)" />
<path d="M540.0,1190.0C546.7,1187.3 545.0,1185.3 560.0,1182.0C575.0,1178.7 568.3,1179.3 585.0,1180.0C601.7,1180.7 594.1,1180.7 610.0,1184.0C625.9,1187.3 625.1,1188.0 632.7,1190.0L632.7,1204 L540,1204 Z" fill="url(#gr1b)" />
<path d="M556.0,1246.0C560.7,1241.3 563.0,1239.1 570.0,1232.0C577.0,1224.9 572.1,1229.6 577.0,1224.6C581.9,1219.6 579.6,1221.2 584.6,1217.0C589.6,1212.8 586.9,1216.2 592.0,1212.0C597.1,1207.8 594.7,1208.2 599.8,1204.4C604.9,1200.6 602.3,1202.1 607.4,1200.6C612.5,1199.1 609.9,1199.6 615.0,1200.0C620.1,1200.4 616.7,1200.0 622.6,1201.9C628.5,1203.8 629.3,1204.4 632.7,1205.7L632.7,1256 L556,1256 Z" fill="url(#gr2)" />
<path d="M500.0,1249.0C501.2,1248.9 499.7,1248.8 503.7,1248.6C507.7,1248.4 506.1,1248.9 512.0,1248.5C517.9,1248.1 515.7,1248.7 521.4,1247.4C527.1,1246.1 523.9,1247.0 529.0,1244.5C534.1,1242.0 531.3,1243.3 536.6,1239.8C541.9,1236.3 539.1,1236.9 545.0,1234.0C550.9,1231.1 548.6,1231.0 554.3,1231.0C560.0,1231.0 557.0,1231.1 562.0,1234.0C567.0,1236.9 564.4,1235.5 569.4,1239.8C574.4,1244.1 571.9,1241.9 577.0,1247.0C582.1,1252.1 579.3,1251.2 584.6,1255.0C589.9,1258.8 587.1,1256.8 593.0,1258.5C598.9,1260.2 596.6,1259.2 602.3,1260.0C608.0,1260.8 604.9,1260.1 610.0,1261.0C615.1,1261.9 612.5,1260.6 617.5,1262.6C622.5,1264.6 619.9,1263.6 625.0,1267.0C630.1,1270.4 630.1,1270.8 632.7,1272.7L632.7,1293 L636.5,1303 L636.5,1412L634,1414C631.0,1415.8 631.3,1420.1 625.0,1419.4C618.7,1418.7 622.6,1419.4 615.0,1411.8C607.4,1404.2 611.6,1409.3 602.3,1396.6C593.0,1383.9 596.3,1389.8 587.0,1373.8C577.7,1357.8 580.5,1360.4 574.5,1348.5C568.5,1336.6 572.4,1343.9 569.0,1338.0C565.6,1332.1 568.1,1332.8 564.4,1330.8C560.7,1328.8 562.2,1330.3 558.0,1332.0C553.8,1333.7 556.0,1334.0 551.7,1336.0C547.4,1338.0 549.2,1336.8 545.0,1338.0C540.8,1339.2 543.7,1340.0 539.0,1339.7C534.3,1339.4 536.0,1339.1 531.0,1337.0C526.0,1334.9 529.7,1333.7 524.0,1333.4C518.3,1333.1 521.5,1331.0 513.8,1336.0C506.1,1341.0 510.3,1337.6 501.0,1348.5C491.7,1359.4 494.4,1353.6 486.0,1368.8C477.6,1384.0 481.9,1379.6 475.9,1394.0C469.9,1408.4 470.6,1406.0 468.0,1412.0L466,1412 L457,1385 L450,1340 L450,1290 L500,1249 Z" fill="url(#gr3)" />
<g clip-path="url(#cr3)">
<path d="M575,1250 L640,1250 L640,1400 L575,1400 Z" fill="url(#gr3h)" />
<path d="M520.0,1296.0C525.0,1289.0 525.7,1286.3 535.0,1275.0C544.3,1263.7 539.7,1266.3 548.0,1262.0C556.3,1257.7 551.0,1258.7 560.0,1262.0C569.0,1265.3 564.3,1266.0 575.0,1272.0C585.7,1278.0 579.7,1277.3 592.0,1280.0C604.3,1282.7 597.3,1276.7 612.0,1280.0C626.7,1283.3 628.0,1286.7 636.0,1290.0" fill="none" stroke="#ff7a72" stroke-width="9" opacity="0.4" filter="url(#fb2)"/>
<path d="M524.0,1300.0C529.3,1296.7 529.3,1296.7 540.0,1290.0C550.7,1283.3 545.3,1280.7 556.0,1280.0C566.7,1279.3 560.7,1282.0 572.0,1288.0C583.3,1294.0 577.3,1295.3 590.0,1298.0C602.7,1300.7 594.7,1293.3 610.0,1296.0C625.3,1298.7 627.3,1302.7 636.0,1306.0" fill="none" stroke="#ff6a62" stroke-width="8" opacity="0.35" filter="url(#fb2)"/>
<path d="M587.0,1373.8C582.8,1365.4 580.5,1360.4 574.5,1348.5C568.5,1336.6 572.4,1343.9 569.0,1338.0C565.6,1332.1 568.1,1332.8 564.4,1330.8C560.7,1328.8 562.2,1330.3 558.0,1332.0C553.8,1333.7 556.0,1334.0 551.7,1336.0C547.4,1338.0 549.2,1336.8 545.0,1338.0C540.8,1339.2 543.7,1340.0 539.0,1339.7C534.3,1339.4 536.0,1339.1 531.0,1337.0C526.0,1334.9 529.7,1333.7 524.0,1333.4C518.3,1333.1 521.5,1331.0 513.8,1336.0C506.1,1341.0 505.3,1344.3 501.0,1348.5" fill="none" stroke="#ff2600" stroke-width="15" opacity="0.95" filter="url(#fb2)"/>
<path d="M615.0,1411.8C610.8,1406.7 611.6,1409.3 602.3,1396.6C593.0,1383.9 596.3,1389.8 587.0,1373.8C577.7,1357.8 578.7,1356.9 574.5,1348.5" fill="none" stroke="#ff5a50" stroke-width="10" opacity="0.7" filter="url(#fb2)"/>
</g>
<g clip-path="url(#cr3x)">
<path d="M449.0,1322.0C449.7,1314.7 448.8,1314.7 451.0,1300.0C453.2,1285.3 452.2,1292.7 455.5,1278.0C458.8,1263.3 457.2,1269.5 461.0,1256.0C464.8,1242.5 463.3,1248.1 467.0,1237.4C470.7,1226.7 469.0,1231.5 472.0,1224.0C475.0,1216.5 473.0,1219.9 476.0,1215.0C479.0,1210.1 477.7,1209.3 481.0,1209.3C484.3,1209.3 481.8,1207.4 486.0,1215.0C490.2,1222.6 487.7,1220.3 493.6,1232.0C499.5,1243.7 497.0,1236.4 503.7,1250.0C510.4,1263.6 507.0,1259.4 513.8,1272.7C520.6,1286.0 517.3,1282.2 524.0,1290.0C530.7,1297.8 530.7,1294.0 534.0,1296.0L545,1296 L545,1420 L466,1412 L457,1385 L450,1340 Z" fill="url(#gr4)" mask="url(#mr4)"/>
</g>
<g clip-path="url(#cr3x)">
<path d="M436,1300 L490,1300 L490,1420 L436,1420 Z" fill="url(#gfootR4)" mask="url(#mfootR4)" filter="url(#fb2)"/>
</g>
<path d="M2.5,963.0C8.3,957.0 9.2,957.7 20.0,945.0C30.8,932.3 25.7,934.6 35.0,925.0C44.3,915.4 40.7,918.0 48.0,916.3C55.3,914.6 51.1,915.8 57.0,920.0C62.9,924.2 58.7,920.7 65.7,929.0C72.7,937.3 70.4,934.0 78.0,945.0C85.6,956.0 80.8,945.3 88.5,962.0C96.2,978.7 93.5,971.3 101.0,995.0C108.5,1018.7 104.3,1005.3 111.0,1033.0C117.7,1060.7 114.2,1052.8 121.0,1078.0C127.8,1103.2 125.5,1093.3 131.5,1108.6C137.5,1123.9 136.5,1118.9 139.0,1124.0L139,1260 L2.5,1260 Z" fill="url(#ghillA)" />
<g clip-path="url(#chillA)">
<path d="M60,1000 L145,1000 L145,1180 L60,1180 Z" fill="url(#gflankA)" mask="url(#mflankA)"/>
</g>
<path d="M112.0,1168.0C115.3,1162.0 115.7,1161.0 122.0,1150.0C128.3,1139.0 125.3,1143.2 131.0,1135.0C136.7,1126.8 132.7,1131.5 139.0,1125.5C145.3,1119.5 142.8,1121.0 150.0,1117.0C157.2,1113.0 154.5,1112.5 160.5,1113.5C166.5,1114.5 163.4,1113.2 168.0,1120.0C172.6,1126.8 170.4,1123.3 174.4,1134.0C178.4,1144.7 176.8,1140.7 180.0,1152.0C183.2,1163.3 181.3,1155.3 184.0,1168.0C186.7,1180.7 186.7,1182.7 188.0,1190.0L190,1230 L112,1230 Z" fill="url(#gL1)" mask="url(#mL1)"/>
<path d="M2.5,1148.0C11.7,1148.7 10.8,1150.7 30.0,1150.0C49.2,1149.3 40.0,1145.3 60.0,1146.0C80.0,1146.7 71.7,1146.3 90.0,1152.0C108.3,1157.7 99.7,1156.0 115.0,1163.0C130.3,1170.0 124.3,1174.7 136.0,1173.0C147.7,1171.3 142.0,1168.0 150.0,1158.0C158.0,1148.0 154.3,1149.0 160.0,1143.0C165.7,1137.0 162.3,1137.7 167.0,1140.0C171.7,1142.3 169.7,1140.0 174.0,1150.0C178.3,1160.0 176.3,1155.0 180.0,1170.0C183.7,1185.0 182.3,1180.0 185.0,1195.0C187.7,1210.0 187.0,1208.3 188.0,1215.0L190,1260 L2.5,1260 Z" fill="url(#gL2)" />
<path d="M2.5,1171.0C11.7,1172.3 10.8,1175.3 30.0,1175.0C49.2,1174.7 38.3,1169.0 60.0,1170.0C81.7,1171.0 73.3,1171.3 95.0,1178.0C116.7,1184.7 110.0,1184.0 125.0,1190.0C140.0,1196.0 131.0,1198.0 140.0,1196.0C149.0,1194.0 144.7,1190.7 152.0,1184.0C159.3,1177.3 156.0,1176.0 162.0,1176.0C168.0,1176.0 164.7,1176.0 170.0,1184.0C175.3,1192.0 173.3,1189.3 178.0,1200.0C182.7,1210.7 180.3,1202.7 184.0,1216.0C187.7,1229.3 187.3,1232.0 189.0,1240.0L191,1290 L2.5,1290 Z" fill="url(#gL3)" />
<path d="M2.5,1211.0C8.3,1212.3 7.5,1215.3 20.0,1215.0C32.5,1214.7 20.0,1211.0 40.0,1210.0C60.0,1209.0 53.3,1211.0 80.0,1212.0C106.7,1213.0 102.0,1213.3 120.0,1213.0C138.0,1212.7 124.0,1213.0 134.0,1211.0C144.0,1209.0 140.7,1207.7 150.0,1207.0C159.3,1206.3 155.3,1205.3 162.0,1209.0C168.7,1212.7 165.0,1210.3 170.0,1218.0C175.0,1225.7 172.3,1219.7 177.0,1232.0C181.7,1244.3 179.7,1239.0 184.0,1255.0C188.3,1271.0 188.0,1271.7 190.0,1280.0L193,1320 L2.5,1320 Z" fill="url(#gL4)" />
<path d="M6.0,1244.0C9.0,1242.7 8.7,1244.0 15.0,1240.0C21.3,1236.0 17.3,1241.7 25.0,1232.0C32.7,1222.3 31.3,1222.0 38.0,1211.0C44.7,1200.0 40.3,1204.7 45.0,1199.0C49.7,1193.3 47.3,1194.3 52.0,1194.0C56.7,1193.7 54.3,1192.7 59.0,1198.0C63.7,1203.3 61.3,1204.3 66.0,1210.0C70.7,1215.7 67.7,1214.3 73.0,1215.0C78.3,1215.7 75.7,1217.7 82.0,1212.0C88.3,1206.3 85.7,1205.7 92.0,1198.0C98.3,1190.3 95.4,1193.0 101.0,1189.0C106.6,1185.0 103.7,1185.7 108.7,1186.0C113.7,1186.3 110.9,1183.7 116.0,1190.0C121.1,1196.3 119.3,1193.3 124.0,1205.0C128.7,1216.7 125.8,1212.7 130.0,1225.0C134.2,1237.3 131.0,1233.0 136.5,1242.0C142.0,1251.0 143.2,1248.7 146.6,1252.0L160,1262 L175,1300 L178,1380 L172,1404 L6,1404 Z" fill="url(#gF)" />
<path d="M130.0,1262.0C132.7,1258.0 132.5,1253.5 138.0,1250.0C143.5,1246.5 140.9,1253.2 146.6,1251.5C152.3,1249.8 149.9,1249.8 155.0,1245.0C160.1,1240.2 157.7,1240.7 162.0,1237.0C166.3,1233.3 163.7,1232.3 168.0,1234.0C172.3,1235.7 170.3,1232.7 175.0,1242.0C179.7,1251.3 178.0,1247.7 182.0,1262.0C186.0,1276.3 183.7,1269.8 187.0,1285.0C190.3,1300.2 189.3,1292.5 192.0,1307.5C194.7,1322.5 195.0,1312.5 195.0,1330.0C195.0,1347.5 195.7,1340.7 192.0,1360.0C188.3,1379.3 190.3,1373.3 184.0,1388.0C177.7,1402.7 176.7,1398.7 173.0,1404.0L120,1404 L120,1262 Z" fill="url(#gF2)" mask="url(#mF2)"/>
<path d="M189.0,1262.0C190.3,1274.7 191.3,1277.3 193.0,1300.0C194.7,1322.7 195.0,1310.0 194.0,1330.0C193.0,1350.0 194.0,1340.0 190.0,1360.0C186.0,1380.0 187.3,1375.3 182.0,1390.0C176.7,1404.7 176.7,1399.3 174.0,1404.0" fill="none" stroke="#ffffff" stroke-width="12" filter="url(#fb4)" opacity="0.9"/>
<path d="M9.0,1307.0C10.7,1304.0 10.3,1303.7 14.0,1298.0C17.7,1292.3 13.0,1299.3 20.0,1290.0C27.0,1280.7 26.7,1279.0 35.0,1270.0C43.3,1261.0 39.0,1266.0 45.0,1263.0C51.0,1260.0 47.3,1260.7 53.0,1261.0C58.7,1261.3 54.3,1259.3 62.0,1264.0C69.7,1268.7 66.7,1267.0 76.0,1275.0C85.3,1283.0 81.7,1281.3 90.0,1288.0C98.3,1294.7 93.7,1291.7 101.0,1295.0C108.3,1298.3 105.3,1294.7 112.0,1298.0C118.7,1301.3 115.7,1298.3 121.0,1305.0C126.3,1311.7 122.8,1307.3 128.0,1318.0C133.2,1328.7 131.2,1325.7 136.5,1337.0C141.8,1348.3 138.9,1342.3 144.0,1352.0C149.1,1361.7 145.8,1355.0 151.7,1366.0C157.6,1377.0 155.0,1373.0 161.8,1385.0C168.6,1397.0 168.6,1396.3 172.0,1402.0L172,1404 L9,1404 Z" fill="url(#gG1)" />
<path d="M5,1290 L40,1262 L40,1380 L5,1380 Z" fill="url(#gG1h)" />
<path d="M10.0,1370.7C13.3,1367.3 13.2,1366.9 20.0,1360.6C26.8,1354.3 20.1,1357.2 30.3,1351.7C40.5,1346.2 38.8,1348.6 50.6,1344.0C62.4,1339.4 57.3,1344.9 65.7,1337.8C74.1,1330.7 69.0,1332.8 75.8,1322.7C82.6,1312.6 79.3,1314.3 86.0,1307.5C92.7,1300.7 90.7,1302.8 96.0,1302.3C101.3,1301.8 97.8,1302.6 102.0,1306.0C106.2,1309.4 103.1,1304.6 108.7,1312.6C114.3,1320.6 112.0,1317.4 118.8,1330.0C125.6,1342.6 122.3,1336.9 129.0,1350.5C135.7,1364.1 133.1,1359.9 139.0,1370.7C144.9,1381.5 140.9,1375.6 146.6,1383.0C152.3,1390.4 147.5,1388.0 156.0,1393.0C164.5,1398.0 166.7,1396.3 172.0,1398.0L172,1403.6C166.9,1402.7 166.0,1402.7 156.7,1401.0C147.4,1399.3 150.7,1401.8 144.0,1398.5C137.3,1395.2 142.4,1399.5 136.5,1391.0C130.6,1382.5 133.1,1385.7 126.4,1373.0C119.7,1360.3 123.1,1366.4 116.3,1353.0C109.5,1339.6 111.9,1343.3 106.0,1332.8C100.1,1322.3 103.6,1322.7 98.6,1321.4C93.6,1320.1 96.1,1322.7 91.0,1329.0C85.9,1335.3 90.1,1330.7 83.4,1340.4C76.7,1350.1 78.4,1348.8 70.8,1358.0C63.2,1367.2 69.1,1365.5 60.7,1368.0C52.3,1370.5 57.4,1365.9 45.5,1365.6C33.6,1365.3 36.8,1365.3 25.0,1367.0C13.2,1368.7 15.0,1369.5 10.0,1370.7Z" fill="url(#gG2)" />
<path d="M0,1372L10.0,1371.5L10.0,1370.7L25.0,1367.0L45.5,1365.6L60.7,1368.0L70.8,1358.0L83.4,1340.4L91.0,1329.0L98.6,1321.4L106.0,1332.8L116.3,1353.0L126.4,1373.0L136.5,1391.0L144.0,1398.5L156.7,1401.0L172.0,1403.6L177.0,1416.0L184.8,1441.7L196.0,1475.0L207.0,1497.7L218.4,1515.6L234.0,1528.0L252.0,1530.6L252,1582 L0,1582 Z" fill="#fff" />
<path d="M-5,900 L2.5,900 L2.5,1236 L6,1246 L9,1258 L9,1372 L-5,1372 Z" fill="#fff" />
<path d="M700,1300 L636.5,1300 L636.5,1412 L634,1414C631.0,1415.8 631.3,1420.1 625.0,1419.4C618.7,1418.7 622.6,1419.4 615.0,1411.8C607.4,1404.2 611.6,1409.3 602.3,1396.6C593.0,1383.9 596.3,1389.8 587.0,1373.8C577.7,1357.8 580.5,1360.4 574.5,1348.5C568.5,1336.6 572.4,1343.9 569.0,1338.0C565.6,1332.1 568.1,1332.8 564.4,1330.8C560.7,1328.8 562.2,1330.3 558.0,1332.0C553.8,1333.7 556.0,1334.0 551.7,1336.0C547.4,1338.0 549.2,1336.8 545.0,1338.0C540.8,1339.2 543.7,1340.0 539.0,1339.7C534.3,1339.4 536.0,1339.1 531.0,1337.0C526.0,1334.9 529.7,1333.7 524.0,1333.4C518.3,1333.1 521.5,1331.0 513.8,1336.0C506.1,1341.0 510.3,1337.6 501.0,1348.5C491.7,1359.4 494.4,1353.6 486.0,1368.8C477.6,1384.0 481.9,1379.6 475.9,1394.0C469.9,1408.4 470.6,1406.0 468.0,1412.0L462.6,1430 L451.5,1459.6 L440,1484 L426.8,1504 L409,1522 L393,1527 L393,1582 L700,1582 Z" fill="#fff" />
<path d="M635.2,842.6 L635.2,1057 L632.7,1062 L632.7,1293 L636.5,1303 L636.5,1420 L700,1420 L700,800 L620,780 Z" fill="#fff" /></g>
<defs>
<clipPath id="sclip"><rect x="23.8" y="58" width="648.8000000000001" height="662.5"/></clipPath>
<filter id="snoise" filterUnits="userSpaceOnUse" x="23.8" y="58" width="648.8000000000001" height="662.5" color-interpolation-filters="sRGB">
  <feTurbulence type="fractalNoise" baseFrequency="0.03 0.03" numOctaves="2" seed="7" result="n"/>
  <feColorMatrix in="n" type="matrix" values="0 0 0 0 0.19  0 0 0 0 0  0 0 0 0 1  3.0 0 0 0 -1.1"/>
</filter>
<filter id="sb2" color-interpolation-filters="sRGB" x="-30%" y="-30%" width="160%" height="160%"><feGaussianBlur stdDeviation="2.2"/></filter>
<filter id="sb4" color-interpolation-filters="sRGB" x="-30%" y="-30%" width="160%" height="160%"><feGaussianBlur stdDeviation="4.5"/></filter>
<filter id="sb8" color-interpolation-filters="sRGB" x="-40%" y="-40%" width="180%" height="180%"><feGaussianBlur stdDeviation="8"/></filter>
<filter id="sbt" color-interpolation-filters="sRGB" x="-5%" y="-20%" width="110%" height="140%"><feGaussianBlur stdDeviation="0.7"/></filter>
<!-- vortex core in the red box: red->yellow->green->cyan->blue -->
<radialGradient id="gv1" cx="0.5" cy="0.5" r="0.5">
<stop offset="0" stop-color="#ff0000"/><stop offset="0.13" stop-color="#ff0800"/><stop offset="0.21" stop-color="#ff9000"/>
<stop offset="0.27" stop-color="#ffff00"/><stop offset="0.33" stop-color="#a0ff00"/><stop offset="0.40" stop-color="#00ff10"/>
<stop offset="0.47" stop-color="#00ff90"/><stop offset="0.54" stop-color="#00ffff"/><stop offset="0.63" stop-color="#00b0ff" stop-opacity="0.95"/>
<stop offset="0.76" stop-color="#0050ff" stop-opacity="0.8"/><stop offset="1" stop-color="#0010ff" stop-opacity="0"/>
</radialGradient>
<!-- left-edge hot spot: orange core -->
<radialGradient id="gv2" cx="0.5" cy="0.5" r="0.5">
<stop offset="0" stop-color="#ff8000"/><stop offset="0.10" stop-color="#ffa000"/><stop offset="0.20" stop-color="#ffee00"/>
<stop offset="0.28" stop-color="#b0ff00"/><stop offset="0.36" stop-color="#10ff00"/><stop offset="0.45" stop-color="#00ff40"/>
<stop offset="0.53" stop-color="#00ffe0"/><stop offset="0.62" stop-color="#00c8ff" stop-opacity="0.95"/>
<stop offset="0.78" stop-color="#0060ff" stop-opacity="0.75"/><stop offset="1" stop-color="#0010ff" stop-opacity="0"/>
</radialGradient>
<!-- bottom blob: green core -->
<radialGradient id="gv3" cx="0.5" cy="0.5" r="0.5">
<stop offset="0" stop-color="#00ff50"/><stop offset="0.14" stop-color="#00ff70"/><stop offset="0.26" stop-color="#00ffd0"/>
<stop offset="0.36" stop-color="#00ffff"/><stop offset="0.5" stop-color="#00b8ff" stop-opacity="0.95"/>
<stop offset="0.72" stop-color="#0058ff" stop-opacity="0.75"/><stop offset="1" stop-color="#0010ff" stop-opacity="0"/>
</radialGradient>
<!-- generic cyan / light-blue blobs -->
<radialGradient id="gcy" cx="0.5" cy="0.5" r="0.5">
<stop offset="0" stop-color="#00ffff"/><stop offset="0.35" stop-color="#00e0ff"/><stop offset="0.65" stop-color="#0090ff" stop-opacity="0.8"/><stop offset="1" stop-color="#0030ff" stop-opacity="0"/>
</radialGradient>
<radialGradient id="glb" cx="0.5" cy="0.5" r="0.5">
<stop offset="0" stop-color="#00b4ff"/><stop offset="0.35" stop-color="#0090ff" stop-opacity="0.95"/><stop offset="0.7" stop-color="#0050ff" stop-opacity="0.7"/><stop offset="1" stop-color="#0010ff" stop-opacity="0"/>
</radialGradient>
<radialGradient id="gmb" cx="0.5" cy="0.5" r="0.5">
<stop offset="0" stop-color="#0070ff" stop-opacity="0.95"/><stop offset="0.5" stop-color="#0050ff" stop-opacity="0.7"/><stop offset="1" stop-color="#0010ff" stop-opacity="0"/>
</radialGradient>
</defs>
<!-- panel frame -->
<rect x="18.2" y="52.6" width="661" height="673.6" fill="#7a7a80"/>
<rect x="21.6" y="56.0" width="653.4" height="666.4" fill="#8c7cf4"/>
<rect x="23.8" y="58" width="648.8000000000001" height="662.5" fill="#0000ff"/>
<rect x="23.8" y="58" width="648.8000000000001" height="662.5" filter="url(#snoise)"/>
<g clip-path="url(#sclip)">
<g filter="url(#sb4)"><ellipse cx="305" cy="216" rx="54" ry="56" fill="url(#glb)" opacity="1.0" transform="rotate(20 305 216)"/><ellipse cx="306" cy="214" rx="26" ry="30" fill="url(#glb)" opacity="1.0" transform="rotate(20 306 214)"/><ellipse cx="292" cy="198" rx="38" ry="30" fill="url(#glb)" opacity="0.8"/><ellipse cx="332" cy="190" rx="32" ry="42" fill="url(#glb)" opacity="0.75" transform="rotate(25 332 190)"/><ellipse cx="340" cy="152" rx="18" ry="12" fill="url(#gmb)" opacity="1.0"/><ellipse cx="262" cy="222" rx="26" ry="20" fill="url(#gmb)" opacity="1.0"/><ellipse cx="272" cy="262" rx="16" ry="20" fill="url(#gmb)" opacity="1.0"/><ellipse cx="300" cy="244" rx="26" ry="30" fill="url(#gmb)" opacity="1.0"/><ellipse cx="338" cy="215" rx="26" ry="26" fill="url(#gmb)" opacity="1.0"/><ellipse cx="240" cy="236" rx="14" ry="10" fill="url(#gmb)" opacity="1.0"/></g><circle cx="322" cy="190" r="6" fill="#0030ff" opacity="0.45" filter="url(#sb2)"/><circle cx="281" cy="201" r="6" fill="#0030ff" opacity="0.45" filter="url(#sb2)"/><g filter="url(#sb4)"><ellipse cx="62" cy="420" rx="66" ry="60" fill="url(#gmb)" opacity="1.0"/><ellipse cx="60" cy="452" rx="62" ry="42" fill="url(#gmb)" opacity="1.0"/><ellipse cx="82" cy="448" rx="36" ry="20" fill="url(#glb)" opacity="1.0"/><ellipse cx="42" cy="502" rx="30" ry="34" fill="url(#gmb)" opacity="1.0"/><ellipse cx="36" cy="370" rx="14" ry="12" fill="url(#gmb)" opacity="1.0"/><ellipse cx="98" cy="392" rx="12" ry="14" fill="url(#gmb)" opacity="1.0"/><ellipse cx="48" cy="410" rx="34" ry="34" fill="url(#glb)" opacity="1.0"/></g><g filter="url(#sb2)"><ellipse cx="43" cy="404" rx="25" ry="25" fill="url(#gcy)" opacity="1.0"/><ellipse cx="55" cy="417" rx="18" ry="15" fill="url(#gcy)" opacity="1.0"/><ellipse cx="34" cy="420" rx="14" ry="14" fill="url(#gcy)" opacity="0.8"/><ellipse cx="85" cy="404" rx="15" ry="14" fill="url(#glb)" opacity="1.0"/><ellipse cx="66" cy="455" rx="24" ry="15" fill="url(#gcy)" opacity="0.9"/></g><circle cx="54" cy="402" r="4.5" fill="#0060ff" opacity="0.9" filter="url(#sb2)"/><circle cx="75" cy="403" r="3.5" fill="#0040ff" opacity="0.7" filter="url(#sb2)"/><g filter="url(#sb2)"><ellipse cx="41.5" cy="454" rx="46" ry="42" fill="url(#gv2)" opacity="1.0"/></g><g filter="url(#sb4)"><ellipse cx="326" cy="674" rx="50" ry="46" fill="url(#gmb)" opacity="1.0"/><ellipse cx="318" cy="640" rx="16" ry="20" fill="url(#gmb)" opacity="1.0"/><ellipse cx="344" cy="636" rx="12" ry="18" fill="url(#gmb)" opacity="1.0"/><ellipse cx="350" cy="700" rx="26" ry="24" fill="url(#glb)" opacity="0.9"/><ellipse cx="373" cy="626" rx="7" ry="7" fill="url(#gmb)" opacity="1.0"/></g><g filter="url(#sb2)"><ellipse cx="326" cy="671" rx="46" ry="40" fill="url(#gv3)" opacity="1.0"/><ellipse cx="324" cy="688" rx="18" ry="24" fill="url(#gcy)" opacity="0.9"/><ellipse cx="343" cy="680" rx="17" ry="18" fill="url(#gcy)" opacity="0.85"/><ellipse cx="334" cy="690" rx="20" ry="16" fill="url(#gcy)" opacity="0.7"/></g><g filter="url(#sb4)"><ellipse cx="584" cy="368" rx="70" ry="66" fill="url(#gmb)" opacity="1.0"/><ellipse cx="598" cy="392" rx="30" ry="26" fill="url(#gmb)" opacity="1.0"/></g><g filter="url(#sb2)"><ellipse cx="560" cy="372" rx="24" ry="17" fill="url(#gcy)" opacity="0.95"/><ellipse cx="581" cy="366" rx="47" ry="52" fill="url(#gv1)" opacity="1.0" transform="rotate(18 581 366)"/></g><ellipse cx="655" cy="551" rx="6" ry="9" fill="url(#glb)" opacity="0.9"/>
</g>
<rect x="518" y="301.2" width="122.8" height="122.6" fill="none" stroke="#ff0000" stroke-width="15" filter="url(#sbt)"/>
<text x="66.5" y="146.5" font-size="69" fill="#fff" word-spacing="-5" filter="url(#sbt)">0.5 T</text>
<text x="42" y="663.5" font-size="66" font-weight="bold" fill="#fff" letter-spacing="0.4" filter="url(#sbt)">20 nm</text>
<rect x="64" y="693" width="108" height="7.3" fill="#fff" filter="url(#sbt)"/>

<defs>
<linearGradient id="hr0" x1="0" x2="1" y1="0" y2="0"><stop offset="0.0148" stop-color="#702070"/><stop offset="0.0445" stop-color="#582070"/><stop offset="0.1038" stop-color="#642070"/><stop offset="0.1365" stop-color="#8a2068"/><stop offset="0.1573" stop-color="#a1384c"/><stop offset="0.1751" stop-color="#b05028"/><stop offset="0.1989" stop-color="#bc6a2a"/><stop offset="0.2345" stop-color="#c88a30"/><stop offset="0.2642" stop-color="#d8c828"/><stop offset="0.2939" stop-color="#cc9930"/><stop offset="0.3295" stop-color="#bc6a2a"/><stop offset="0.3473" stop-color="#582070"/><stop offset="0.3830" stop-color="#281858"/><stop offset="0.4245" stop-color="#130c26"/><stop offset="0.4542" stop-color="#0c0814"/><stop offset="0.4899" stop-color="#281858"/><stop offset="0.5196" stop-color="#281858"/><stop offset="0.5552" stop-color="#0c0814"/><stop offset="0.5908" stop-color="#281858"/><stop offset="0.6265" stop-color="#3a1c68"/><stop offset="0.6502" stop-color="#71206c"/><stop offset="0.6621" stop-color="#b65d29"/><stop offset="0.6799" stop-color="#d8c828"/><stop offset="0.7096" stop-color="#e8e050"/><stop offset="0.7274" stop-color="#e8e050"/><stop offset="0.7512" stop-color="#e8e050"/><stop offset="0.7690" stop-color="#d0a830"/><stop offset="0.7987" stop-color="#c88a30"/><stop offset="0.8284" stop-color="#b65d29"/><stop offset="0.8521" stop-color="#b05028"/><stop offset="0.8729" stop-color="#a84040"/><stop offset="0.9234" stop-color="#a1384c"/><stop offset="0.9590" stop-color="#9a3058"/><stop offset="0.9828" stop-color="#922860"/></linearGradient><linearGradient id="hr1" x1="0" x2="1" y1="0" y2="0"><stop offset="0.0148" stop-color="#702070"/><stop offset="0.0445" stop-color="#582070"/><stop offset="0.1038" stop-color="#642070"/><stop offset="0.1365" stop-color="#8a2068"/><stop offset="0.1573" stop-color="#a1384c"/><stop offset="0.1751" stop-color="#b05028"/><stop offset="0.1989" stop-color="#bc6a2a"/><stop offset="0.2345" stop-color="#c88a30"/><stop offset="0.2642" stop-color="#d0a830"/><stop offset="0.2939" stop-color="#cc9930"/><stop offset="0.3295" stop-color="#bc6a2a"/><stop offset="0.3473" stop-color="#582070"/><stop offset="0.3830" stop-color="#281858"/><stop offset="0.4245" stop-color="#130c26"/><stop offset="0.4542" stop-color="#0c0814"/><stop offset="0.4899" stop-color="#281858"/><stop offset="0.5196" stop-color="#281858"/><stop offset="0.5552" stop-color="#0c0814"/><stop offset="0.5908" stop-color="#281858"/><stop offset="0.6265" stop-color="#3a1c68"/><stop offset="0.6502" stop-color="#71206c"/><stop offset="0.6621" stop-color="#b65d29"/><stop offset="0.6799" stop-color="#d8c828"/><stop offset="0.7096" stop-color="#e8e050"/><stop offset="0.7274" stop-color="#e8e050"/><stop offset="0.7512" stop-color="#e8e050"/><stop offset="0.7690" stop-color="#d0a830"/><stop offset="0.7987" stop-color="#c88a30"/><stop offset="0.8284" stop-color="#b65d29"/><stop offset="0.8521" stop-color="#b05028"/><stop offset="0.8729" stop-color="#a84040"/><stop offset="0.9234" stop-color="#a1384c"/><stop offset="0.9590" stop-color="#9a3058"/><stop offset="0.9828" stop-color="#9a3058"/></linearGradient><linearGradient id="hr2" x1="0" x2="1" y1="0" y2="0"><stop offset="0.0148" stop-color="#702070"/><stop offset="0.0563" stop-color="#582070"/><stop offset="0.1098" stop-color="#702070"/><stop offset="0.1395" stop-color="#922860"/><stop offset="0.1603" stop-color="#ac4834"/><stop offset="0.1810" stop-color="#b65d29"/><stop offset="0.1989" stop-color="#bc6a2a"/><stop offset="0.2286" stop-color="#c88a30"/><stop offset="0.2583" stop-color="#c27a2d"/><stop offset="0.2998" stop-color="#d8c828"/><stop offset="0.3236" stop-color="#c88a30"/><stop offset="0.3414" stop-color="#b05028"/><stop offset="0.3592" stop-color="#582070"/><stop offset="0.3889" stop-color="#281858"/><stop offset="0.4245" stop-color="#1a1038"/><stop offset="0.4483" stop-color="#0c0814"/><stop offset="0.4899" stop-color="#281858"/><stop offset="0.5314" stop-color="#1a1038"/><stop offset="0.5552" stop-color="#130c26"/><stop offset="0.5908" stop-color="#311a60"/><stop offset="0.6265" stop-color="#491e6c"/><stop offset="0.6443" stop-color="#8a2068"/><stop offset="0.6561" stop-color="#b65d29"/><stop offset="0.6740" stop-color="#d4b82c"/><stop offset="0.6977" stop-color="#eeea78"/><stop offset="0.7215" stop-color="#e8e050"/><stop offset="0.7452" stop-color="#d8c828"/><stop offset="0.7690" stop-color="#cc9930"/><stop offset="0.8046" stop-color="#bc6a2a"/><stop offset="0.8402" stop-color="#b05028"/><stop offset="0.8699" stop-color="#a84040"/><stop offset="0.9234" stop-color="#a1384c"/><stop offset="0.9590" stop-color="#a1384c"/><stop offset="0.9828" stop-color="#a1384c"/></linearGradient><linearGradient id="hr3" x1="0" x2="1" y1="0" y2="0"><stop offset="0.0148" stop-color="#8a2068"/><stop offset="0.0563" stop-color="#702070"/><stop offset="0.1038" stop-color="#8a2068"/><stop offset="0.1365" stop-color="#9a3058"/><stop offset="0.1573" stop-color="#ac4834"/><stop offset="0.1870" stop-color="#bc6a2a"/><stop offset="0.2345" stop-color="#c27a2d"/><stop offset="0.2701" stop-color="#c88a30"/><stop offset="0.3058" stop-color="#d4b82c"/><stop offset="0.3295" stop-color="#bc6a2a"/><stop offset="0.3473" stop-color="#a84040"/><stop offset="0.3651" stop-color="#582070"/><stop offset="0.4008" stop-color="#311a60"/><stop offset="0.4364" stop-color="#1a1038"/><stop offset="0.4602" stop-color="#0c0814"/><stop offset="0.4958" stop-color="#311a60"/><stop offset="0.5196" stop-color="#3a1c68"/><stop offset="0.5492" stop-color="#1a1038"/><stop offset="0.5849" stop-color="#281858"/><stop offset="0.6146" stop-color="#582070"/><stop offset="0.6324" stop-color="#922860"/><stop offset="0.6502" stop-color="#b65d29"/><stop offset="0.6680" stop-color="#cc9930"/><stop offset="0.6977" stop-color="#eeea78"/><stop offset="0.7215" stop-color="#d8c828"/><stop offset="0.7452" stop-color="#d0a830"/><stop offset="0.7690" stop-color="#c88a30"/><stop offset="0.8046" stop-color="#bc6a2a"/><stop offset="0.8462" stop-color="#b05028"/><stop offset="0.8878" stop-color="#ac4834"/><stop offset="0.9353" stop-color="#a84040"/><stop offset="0.9828" stop-color="#b05028"/></linearGradient><linearGradient id="hr4" x1="0" x2="1" y1="0" y2="0"><stop offset="0.0148" stop-color="#8a2068"/><stop offset="0.0563" stop-color="#a1384c"/><stop offset="0.1157" stop-color="#a84040"/><stop offset="0.1751" stop-color="#a84040"/><stop offset="0.2345" stop-color="#a84040"/><stop offset="0.2939" stop-color="#a1384c"/><stop offset="0.3533" stop-color="#9a3058"/><stop offset="0.3830" stop-color="#8a2068"/><stop offset="0.4067" stop-color="#582070"/><stop offset="0.4245" stop-color="#281858"/><stop offset="0.4483" stop-color="#1a1038"/><stop offset="0.4720" stop-color="#582070"/><stop offset="0.4958" stop-color="#7d206c"/><stop offset="0.5196" stop-color="#642070"/><stop offset="0.5433" stop-color="#3a1c68"/><stop offset="0.5671" stop-color="#281858"/><stop offset="0.5908" stop-color="#491e6c"/><stop offset="0.6146" stop-color="#922860"/><stop offset="0.6324" stop-color="#b65d29"/><stop offset="0.6621" stop-color="#c88a30"/><stop offset="0.7096" stop-color="#d0a830"/><stop offset="0.7452" stop-color="#bc6a2a"/><stop offset="0.7987" stop-color="#b65d29"/><stop offset="0.8581" stop-color="#b05028"/><stop offset="0.9174" stop-color="#b05028"/><stop offset="0.9828" stop-color="#b05028"/></linearGradient><linearGradient id="hr5" x1="0" x2="1" y1="0" y2="0"><stop offset="0.0148" stop-color="#8a2068"/><stop offset="0.0563" stop-color="#922860"/><stop offset="0.1157" stop-color="#9a3058"/><stop offset="0.1751" stop-color="#a1384c"/><stop offset="0.2345" stop-color="#a84040"/><stop offset="0.2939" stop-color="#a84040"/><stop offset="0.3533" stop-color="#a1384c"/><stop offset="0.3859" stop-color="#8a2068"/><stop offset="0.4008" stop-color="#582070"/><stop offset="0.4138" stop-color="#281858"/><stop offset="0.4394" stop-color="#211448"/><stop offset="0.4661" stop-color="#211448"/><stop offset="0.4792" stop-color="#582070"/><stop offset="0.5017" stop-color="#8a2068"/><stop offset="0.5243" stop-color="#582070"/><stop offset="0.5362" stop-color="#281858"/><stop offset="0.5611" stop-color="#281858"/><stop offset="0.5968" stop-color="#281858"/><stop offset="0.6175" stop-color="#491e6c"/><stop offset="0.6312" stop-color="#7d206c"/><stop offset="0.6354" stop-color="#b05028"/><stop offset="0.6443" stop-color="#c88a30"/><stop offset="0.6680" stop-color="#b65d29"/><stop offset="0.7096" stop-color="#b05028"/><stop offset="0.7571" stop-color="#ac4834"/><stop offset="0.7927" stop-color="#a84040"/><stop offset="0.8284" stop-color="#ac4834"/><stop offset="0.8759" stop-color="#b05028"/><stop offset="0.9353" stop-color="#b05028"/><stop offset="0.9828" stop-color="#b65d29"/></linearGradient><linearGradient id="hr6" x1="0" x2="1" y1="0" y2="0"><stop offset="0.0148" stop-color="#8a2068"/><stop offset="0.0563" stop-color="#8a2068"/><stop offset="0.1157" stop-color="#922860"/><stop offset="0.1751" stop-color="#9a3058"/><stop offset="0.2345" stop-color="#a1384c"/><stop offset="0.2939" stop-color="#a84040"/><stop offset="0.3533" stop-color="#a1384c"/><stop offset="0.3859" stop-color="#8a2068"/><stop offset="0.4008" stop-color="#582070"/><stop offset="0.4138" stop-color="#281858"/><stop offset="0.4394" stop-color="#211448"/><stop offset="0.4661" stop-color="#211448"/><stop offset="0.4792" stop-color="#582070"/><stop offset="0.5017" stop-color="#8a2068"/><stop offset="0.5243" stop-color="#582070"/><stop offset="0.5362" stop-color="#281858"/><stop offset="0.5611" stop-color="#281858"/><stop offset="0.5968" stop-color="#281858"/><stop offset="0.6175" stop-color="#491e6c"/><stop offset="0.6312" stop-color="#7d206c"/><stop offset="0.6413" stop-color="#9a3058"/><stop offset="0.6680" stop-color="#a84040"/><stop offset="0.7096" stop-color="#a84040"/><stop offset="0.7690" stop-color="#a84040"/><stop offset="0.8165" stop-color="#ac4834"/><stop offset="0.8581" stop-color="#b05028"/><stop offset="0.9174" stop-color="#b05028"/><stop offset="0.9828" stop-color="#b65d29"/></linearGradient><linearGradient id="hr7" x1="0" x2="1" y1="0" y2="0"><stop offset="0.0148" stop-color="#9a3058"/><stop offset="0.0563" stop-color="#922860"/><stop offset="0.1157" stop-color="#8a2068"/><stop offset="0.1751" stop-color="#9a3058"/><stop offset="0.2345" stop-color="#a84040"/><stop offset="0.2939" stop-color="#9a3058"/><stop offset="0.3295" stop-color="#8a2068"/><stop offset="0.3651" stop-color="#9a3058"/><stop offset="0.3859" stop-color="#8a2068"/><stop offset="0.4008" stop-color="#582070"/><stop offset="0.4138" stop-color="#281858"/><stop offset="0.4394" stop-color="#211448"/><stop offset="0.4661" stop-color="#211448"/><stop offset="0.4792" stop-color="#582070"/><stop offset="0.5017" stop-color="#8a2068"/><stop offset="0.5243" stop-color="#582070"/><stop offset="0.5362" stop-color="#281858"/><stop offset="0.5611" stop-color="#281858"/><stop offset="0.5968" stop-color="#281858"/><stop offset="0.6175" stop-color="#491e6c"/><stop offset="0.6312" stop-color="#7d206c"/><stop offset="0.6502" stop-color="#8a2068"/><stop offset="0.6977" stop-color="#922860"/><stop offset="0.7452" stop-color="#a1384c"/><stop offset="0.7927" stop-color="#a84040"/><stop offset="0.8402" stop-color="#b05028"/><stop offset="0.8878" stop-color="#b65d29"/><stop offset="0.9353" stop-color="#bc6a2a"/><stop offset="0.9828" stop-color="#c88a30"/></linearGradient><linearGradient id="hr8" x1="0" x2="1" y1="0" y2="0"><stop offset="0.0148" stop-color="#a84040"/><stop offset="0.0563" stop-color="#a84040"/><stop offset="0.1157" stop-color="#a1384c"/><stop offset="0.1751" stop-color="#9a3058"/><stop offset="0.2345" stop-color="#9a3058"/><stop offset="0.2939" stop-color="#922860"/><stop offset="0.3533" stop-color="#8a2068"/><stop offset="0.3859" stop-color="#8a2068"/><stop offset="0.4008" stop-color="#582070"/><stop offset="0.4138" stop-color="#281858"/><stop offset="0.4394" stop-color="#211448"/><stop offset="0.4661" stop-color="#211448"/><stop offset="0.4792" stop-color="#582070"/><stop offset="0.5017" stop-color="#8a2068"/><stop offset="0.5243" stop-color="#582070"/><stop offset="0.5362" stop-color="#281858"/><stop offset="0.5611" stop-color="#281858"/><stop offset="0.5968" stop-color="#281858"/><stop offset="0.6175" stop-color="#491e6c"/><stop offset="0.6312" stop-color="#7d206c"/><stop offset="0.6502" stop-color="#8a2068"/><stop offset="0.7096" stop-color="#8a2068"/><stop offset="0.7630" stop-color="#922860"/><stop offset="0.8046" stop-color="#a84040"/><stop offset="0.8462" stop-color="#b05028"/><stop offset="0.8878" stop-color="#b65d29"/><stop offset="0.9353" stop-color="#c27a2d"/><stop offset="0.9828" stop-color="#cc9930"/></linearGradient><linearGradient id="hr9" x1="0" x2="1" y1="0" y2="0"><stop offset="0.0148" stop-color="#a1384c"/><stop offset="0.0646" stop-color="#a1384c"/><stop offset="0.0979" stop-color="#9a3058"/><stop offset="0.1989" stop-color="#9a3058"/><stop offset="0.2179" stop-color="#ac4834"/><stop offset="0.2499" stop-color="#922860"/><stop offset="0.3010" stop-color="#922860"/><stop offset="0.3343" stop-color="#a84040"/><stop offset="0.3592" stop-color="#9a3058"/><stop offset="0.3770" stop-color="#8a2068"/><stop offset="0.3859" stop-color="#8a2068"/><stop offset="0.4008" stop-color="#582070"/><stop offset="0.4138" stop-color="#281858"/><stop offset="0.4394" stop-color="#211448"/><stop offset="0.4661" stop-color="#211448"/><stop offset="0.4792" stop-color="#582070"/><stop offset="0.5017" stop-color="#702070"/><stop offset="0.5243" stop-color="#582070"/><stop offset="0.5362" stop-color="#281858"/><stop offset="0.5611" stop-color="#281858"/><stop offset="0.5968" stop-color="#281858"/><stop offset="0.6175" stop-color="#491e6c"/><stop offset="0.6312" stop-color="#7d206c"/><stop offset="0.6502" stop-color="#8a2068"/><stop offset="0.6746" stop-color="#922860"/><stop offset="0.7423" stop-color="#8a2068"/><stop offset="0.8100" stop-color="#a1384c"/><stop offset="0.8604" stop-color="#b05028"/><stop offset="0.9115" stop-color="#b65d29"/><stop offset="0.9620" stop-color="#bc6a2a"/><stop offset="0.9828" stop-color="#c27a2d"/></linearGradient><linearGradient id="hr10" x1="0" x2="1" y1="0" y2="0"><stop offset="0.0148" stop-color="#8a2068"/><stop offset="0.0742" stop-color="#922860"/><stop offset="0.1318" stop-color="#922860"/><stop offset="0.1591" stop-color="#a84040"/><stop offset="0.1858" stop-color="#b05028"/><stop offset="0.2333" stop-color="#b05028"/><stop offset="0.2672" stop-color="#b65d29"/><stop offset="0.3176" stop-color="#c88a30"/><stop offset="0.3515" stop-color="#bc6a2a"/><stop offset="0.3770" stop-color="#a84040"/><stop offset="0.3901" stop-color="#8a2068"/><stop offset="0.4037" stop-color="#71206c"/><stop offset="0.4198" stop-color="#281858"/><stop offset="0.4453" stop-color="#211448"/><stop offset="0.4720" stop-color="#211448"/><stop offset="0.4887" stop-color="#582070"/><stop offset="0.5089" stop-color="#702070"/><stop offset="0.5291" stop-color="#582070"/><stop offset="0.5463" stop-color="#281858"/><stop offset="0.5700" stop-color="#211448"/><stop offset="0.5908" stop-color="#281858"/><stop offset="0.6027" stop-color="#642070"/><stop offset="0.6086" stop-color="#a1384c"/><stop offset="0.6205" stop-color="#ac4834"/><stop offset="0.6413" stop-color="#a84040"/><stop offset="0.6817" stop-color="#b65d29"/><stop offset="0.7256" stop-color="#a1384c"/><stop offset="0.7696" stop-color="#8a2068"/><stop offset="0.8100" stop-color="#9a3058"/><stop offset="0.8777" stop-color="#a1384c"/><stop offset="0.9448" stop-color="#a84040"/><stop offset="0.9786" stop-color="#ac4834"/></linearGradient><linearGradient id="hr11" x1="0" x2="1" y1="0" y2="0"><stop offset="0.0148" stop-color="#9a3058"/><stop offset="0.1490" stop-color="#9a3058"/><stop offset="0.1727" stop-color="#ac4834"/><stop offset="0.1995" stop-color="#b65d29"/><stop offset="0.2499" stop-color="#b65d29"/><stop offset="0.2838" stop-color="#c88a30"/><stop offset="0.3176" stop-color="#bc6a2a"/><stop offset="0.3515" stop-color="#b65d29"/><stop offset="0.3711" stop-color="#a84040"/><stop offset="0.3889" stop-color="#9a3058"/><stop offset="0.4067" stop-color="#792864"/><stop offset="0.4216" stop-color="#281858"/><stop offset="0.4483" stop-color="#1a1038"/><stop offset="0.4750" stop-color="#211448"/><stop offset="0.4899" stop-color="#582070"/><stop offset="0.5089" stop-color="#642070"/><stop offset="0.5291" stop-color="#582070"/><stop offset="0.5463" stop-color="#211448"/><stop offset="0.5700" stop-color="#211448"/><stop offset="0.5908" stop-color="#582070"/><stop offset="0.6086" stop-color="#a84040"/><stop offset="0.6235" stop-color="#c88a30"/><stop offset="0.6478" stop-color="#b65d29"/><stop offset="0.6918" stop-color="#b65d29"/><stop offset="0.7256" stop-color="#b05028"/><stop offset="0.7595" stop-color="#a1384c"/><stop offset="0.7933" stop-color="#922860"/><stop offset="0.8604" stop-color="#9a3058"/><stop offset="0.9281" stop-color="#a1384c"/><stop offset="0.9786" stop-color="#a84040"/></linearGradient><linearGradient id="hr12" x1="0" x2="1" y1="0" y2="0"><stop offset="0.0148" stop-color="#a84040"/><stop offset="0.0646" stop-color="#a84040"/><stop offset="0.0979" stop-color="#ac4834"/><stop offset="0.1490" stop-color="#ac4834"/><stop offset="0.1828" stop-color="#b65d29"/><stop offset="0.2333" stop-color="#bc6a2a"/><stop offset="0.2838" stop-color="#c27a2d"/><stop offset="0.3343" stop-color="#b65d29"/><stop offset="0.3551" stop-color="#a84040"/><stop offset="0.3770" stop-color="#8a2068"/><stop offset="0.4008" stop-color="#582070"/><stop offset="0.4216" stop-color="#211448"/><stop offset="0.4483" stop-color="#1a1038"/><stop offset="0.4750" stop-color="#211448"/><stop offset="0.4910" stop-color="#491e6c"/><stop offset="0.5089" stop-color="#582070"/><stop offset="0.5279" stop-color="#491e6c"/><stop offset="0.5463" stop-color="#211448"/><stop offset="0.5611" stop-color="#1a1038"/><stop offset="0.5819" stop-color="#281858"/><stop offset="0.6027" stop-color="#582070"/><stop offset="0.6205" stop-color="#b65d29"/><stop offset="0.6502" stop-color="#bc6a2a"/><stop offset="0.6746" stop-color="#bc6a2a"/><stop offset="0.7096" stop-color="#b05028"/><stop offset="0.7423" stop-color="#ac4834"/><stop offset="0.7761" stop-color="#9a3058"/><stop offset="0.8402" stop-color="#9a3058"/><stop offset="0.8943" stop-color="#a1384c"/><stop offset="0.9234" stop-color="#a84040"/><stop offset="0.9531" stop-color="#b05028"/><stop offset="0.9828" stop-color="#b65d29"/></linearGradient><linearGradient id="hr13" x1="0" x2="1" y1="0" y2="0"><stop offset="0.0171" stop-color="#a1384c"/><stop offset="0.0474" stop-color="#ac4834"/><stop offset="0.0979" stop-color="#b05028"/><stop offset="0.1490" stop-color="#b65d29"/><stop offset="0.1858" stop-color="#bc6a2a"/><stop offset="0.2167" stop-color="#b65d29"/><stop offset="0.2499" stop-color="#b05028"/><stop offset="0.2838" stop-color="#c27a2d"/><stop offset="0.3176" stop-color="#b65d29"/><stop offset="0.3414" stop-color="#a84040"/><stop offset="0.3551" stop-color="#8a2068"/><stop offset="0.3711" stop-color="#922860"/><stop offset="0.3948" stop-color="#582070"/><stop offset="0.4186" stop-color="#281858"/><stop offset="0.4483" stop-color="#1a1038"/><stop offset="0.4839" stop-color="#281858"/><stop offset="0.5077" stop-color="#311a60"/><stop offset="0.5314" stop-color="#281858"/><stop offset="0.5611" stop-color="#1a1038"/><stop offset="0.5908" stop-color="#311a60"/><stop offset="0.6146" stop-color="#642070"/><stop offset="0.6324" stop-color="#ac4834"/><stop offset="0.6502" stop-color="#bc6a2a"/><stop offset="0.6799" stop-color="#bc6a2a"/><stop offset="0.7037" stop-color="#b05028"/><stop offset="0.7423" stop-color="#a84040"/><stop offset="0.7832" stop-color="#9a3058"/><stop offset="0.8777" stop-color="#9a3058"/><stop offset="0.9044" stop-color="#ac4834"/><stop offset="0.9281" stop-color="#b65d29"/><stop offset="0.9620" stop-color="#bc6a2a"/><stop offset="0.9828" stop-color="#b65d29"/></linearGradient><linearGradient id="hr14" x1="0" x2="1" y1="0" y2="0"><stop offset="0.0171" stop-color="#8a2068"/><stop offset="0.0474" stop-color="#a1384c"/><stop offset="0.0979" stop-color="#b05028"/><stop offset="0.1490" stop-color="#b65d29"/><stop offset="0.1995" stop-color="#c27a2d"/><stop offset="0.2333" stop-color="#b05028"/><stop offset="0.2672" stop-color="#b05028"/><stop offset="0.3010" stop-color="#bc6a2a"/><stop offset="0.3277" stop-color="#b65d29"/><stop offset="0.3479" stop-color="#9a3058"/><stop offset="0.3616" stop-color="#8a2068"/><stop offset="0.3770" stop-color="#8a2068"/><stop offset="0.4008" stop-color="#582070"/><stop offset="0.4245" stop-color="#211448"/><stop offset="0.4542" stop-color="#130c26"/><stop offset="0.4899" stop-color="#281858"/><stop offset="0.5196" stop-color="#281858"/><stop offset="0.5492" stop-color="#1a1038"/><stop offset="0.5789" stop-color="#281858"/><stop offset="0.6086" stop-color="#582070"/><stop offset="0.6265" stop-color="#a1384c"/><stop offset="0.6443" stop-color="#bc6a2a"/><stop offset="0.6680" stop-color="#c27a2d"/><stop offset="0.6947" stop-color="#b05028"/><stop offset="0.7155" stop-color="#a84040"/><stop offset="0.7322" stop-color="#8a2068"/><stop offset="0.7595" stop-color="#a84040"/><stop offset="0.7933" stop-color="#b05028"/><stop offset="0.8438" stop-color="#b05028"/><stop offset="0.8943" stop-color="#b65d29"/><stop offset="0.9281" stop-color="#bc6a2a"/><stop offset="0.9620" stop-color="#bc6a2a"/><stop offset="0.9828" stop-color="#b65d29"/></linearGradient><linearGradient id="hr15" x1="0" x2="1" y1="0" y2="0"><stop offset="0.0171" stop-color="#642070"/><stop offset="0.0646" stop-color="#8a2068"/><stop offset="0.1151" stop-color="#922860"/><stop offset="0.1490" stop-color="#ac4834"/><stop offset="0.1828" stop-color="#b65d29"/><stop offset="0.2131" stop-color="#bc6a2a"/><stop offset="0.2398" stop-color="#b05028"/><stop offset="0.2672" stop-color="#b65d29"/><stop offset="0.3010" stop-color="#d4b82c"/><stop offset="0.3277" stop-color="#bc6a2a"/><stop offset="0.3479" stop-color="#a84040"/><stop offset="0.3616" stop-color="#9a3058"/><stop offset="0.3800" stop-color="#8a2068"/><stop offset="0.4008" stop-color="#582070"/><stop offset="0.4245" stop-color="#211448"/><stop offset="0.4542" stop-color="#0c0814"/><stop offset="0.4899" stop-color="#281858"/><stop offset="0.5196" stop-color="#281858"/><stop offset="0.5492" stop-color="#1a1038"/><stop offset="0.5789" stop-color="#281858"/><stop offset="0.6086" stop-color="#582070"/><stop offset="0.6265" stop-color="#a1384c"/><stop offset="0.6443" stop-color="#bc6a2a"/><stop offset="0.6852" stop-color="#c88a30"/><stop offset="0.7090" stop-color="#b05028"/><stop offset="0.7357" stop-color="#8a2068"/><stop offset="0.7630" stop-color="#a84040"/><stop offset="0.7963" stop-color="#b65d29"/><stop offset="0.8438" stop-color="#b65d29"/><stop offset="0.8943" stop-color="#b65d29"/><stop offset="0.9454" stop-color="#bc6a2a"/><stop offset="0.9828" stop-color="#b65d29"/></linearGradient><linearGradient id="hr16" x1="0" x2="1" y1="0" y2="0"><stop offset="0.0171" stop-color="#582070"/><stop offset="0.0646" stop-color="#642070"/><stop offset="0.1086" stop-color="#8a2068"/><stop offset="0.1419" stop-color="#a1384c"/><stop offset="0.1727" stop-color="#b05028"/><stop offset="0.2060" stop-color="#b65d29"/><stop offset="0.2398" stop-color="#b65d29"/><stop offset="0.2600" stop-color="#c88a30"/><stop offset="0.2838" stop-color="#e8e050"/><stop offset="0.3075" stop-color="#e8e050"/><stop offset="0.3277" stop-color="#d0a830"/><stop offset="0.3450" stop-color="#b65d29"/><stop offset="0.3616" stop-color="#a84040"/><stop offset="0.3770" stop-color="#8a2068"/><stop offset="0.3948" stop-color="#71206c"/><stop offset="0.4186" stop-color="#281858"/><stop offset="0.4542" stop-color="#0c0814"/><stop offset="0.4899" stop-color="#281858"/><stop offset="0.5196" stop-color="#211448"/><stop offset="0.5492" stop-color="#1a1038"/><stop offset="0.5789" stop-color="#281858"/><stop offset="0.6086" stop-color="#642070"/><stop offset="0.6265" stop-color="#a84040"/><stop offset="0.6502" stop-color="#bc6a2a"/><stop offset="0.6852" stop-color="#cc9930"/><stop offset="0.7090" stop-color="#b65d29"/><stop offset="0.7357" stop-color="#922860"/><stop offset="0.7630" stop-color="#a84040"/><stop offset="0.7963" stop-color="#b65d29"/><stop offset="0.8438" stop-color="#a1384c"/><stop offset="0.8777" stop-color="#a1384c"/><stop offset="0.9115" stop-color="#ac4834"/><stop offset="0.9454" stop-color="#b05028"/><stop offset="0.9828" stop-color="#b65d29"/></linearGradient>
<filter id="hvb" color-interpolation-filters="sRGB" filterUnits="userSpaceOnUse" x="872" y="-59.5" width="675.2" height="1519.7"><feGaussianBlur stdDeviation="2 24"/></filter>
<filter id="hb6" color-interpolation-filters="sRGB" filterUnits="userSpaceOnUse" x="832" y="-59.5" width="755.2" height="1519.7"><feGaussianBlur stdDeviation="5 14"/></filter>
<filter id="hb3" color-interpolation-filters="sRGB" filterUnits="userSpaceOnUse" x="832" y="-59.5" width="755.2" height="1519.7"><feGaussianBlur stdDeviation="3 10"/></filter>
<clipPath id="hclip"><rect x="892" y="60.5" width="635.2" height="1279.7"/></clipPath>
<linearGradient id="cbar" x1="0" x2="0" y1="0" y2="1">
<stop offset="0" stop-color="#ffffff"/><stop offset="0.04" stop-color="#fcfce0"/><stop offset="0.065" stop-color="#f5f5a0"/><stop offset="0.12" stop-color="#e8e050"/>
<stop offset="0.22" stop-color="#d8c828"/><stop offset="0.32" stop-color="#d0a830"/><stop offset="0.38" stop-color="#c88a30"/>
<stop offset="0.45" stop-color="#b86828"/><stop offset="0.505" stop-color="#b05028"/><stop offset="0.54" stop-color="#a84040"/>
<stop offset="0.585" stop-color="#9a3058"/><stop offset="0.63" stop-color="#8a2468"/><stop offset="0.724" stop-color="#702070"/>
<stop offset="0.793" stop-color="#582070"/><stop offset="0.86" stop-color="#3a1c68"/><stop offset="0.93" stop-color="#281858"/>
<stop offset="0.976" stop-color="#1a1038"/><stop offset="1" stop-color="#0c0814"/>
</linearGradient>
</defs>
<g clip-path="url(#hclip)">
<g filter="url(#hvb)"><rect x="882" y="-19.5" width="655.2" height="155.1" fill="url(#hr0)"/><rect x="882" y="135.0" width="655.2" height="70.6" fill="url(#hr1)"/><rect x="882" y="205.0" width="655.2" height="75.6" fill="url(#hr2)"/><rect x="882" y="280.0" width="655.2" height="80.6" fill="url(#hr3)"/><rect x="882" y="360.0" width="655.2" height="75.6" fill="url(#hr4)"/><rect x="882" y="435.0" width="655.2" height="83.1" fill="url(#hr5)"/><rect x="882" y="517.5" width="655.2" height="90.6" fill="url(#hr6)"/><rect x="882" y="607.5" width="655.2" height="78.1" fill="url(#hr7)"/><rect x="882" y="685.0" width="655.2" height="70.6" fill="url(#hr8)"/><rect x="882" y="755.0" width="655.2" height="75.6" fill="url(#hr9)"/><rect x="882" y="830.0" width="655.2" height="80.6" fill="url(#hr10)"/><rect x="882" y="910.0" width="655.2" height="85.6" fill="url(#hr11)"/><rect x="882" y="995.0" width="655.2" height="80.6" fill="url(#hr12)"/><rect x="882" y="1075.0" width="655.2" height="70.6" fill="url(#hr13)"/><rect x="882" y="1145.0" width="655.2" height="70.6" fill="url(#hr14)"/><rect x="882" y="1215.0" width="655.2" height="68.1" fill="url(#hr15)"/><rect x="882" y="1282.5" width="655.2" height="138.3" fill="url(#hr16)"/></g>
<ellipse cx="1352" cy="150" rx="22" ry="62" fill="#ffffe0" opacity="1.0" filter="url(#hb6)"/><ellipse cx="1355" cy="150" rx="11" ry="44" fill="#ffffff" opacity="1.0" filter="url(#hb3)"/><ellipse cx="1341" cy="296" rx="13" ry="30" fill="#fbfba0" opacity="0.9" filter="url(#hb6)"/><ellipse cx="1060" cy="110" rx="9" ry="60" fill="#dcc830" opacity="0.8" filter="url(#hb6)"/><ellipse cx="1078" cy="254" rx="9" ry="34" fill="#dcc430" opacity="0.85" filter="url(#hb6)"/><ellipse cx="1082" cy="336" rx="8" ry="22" fill="#d8b830" opacity="0.8" filter="url(#hb6)"/><ellipse cx="1211" cy="650" rx="11" ry="185" fill="#b04838" opacity="0.9" filter="url(#hb6)"/><ellipse cx="1211" cy="520" rx="5" ry="55" fill="#c87030" opacity="0.9" filter="url(#hb3)"/><ellipse cx="1211" cy="645" rx="7" ry="150" fill="#d8b030" opacity="1.0" filter="url(#hb6)"/><ellipse cx="1211" cy="640" rx="4" ry="90" fill="#e0d040" opacity="1.0" filter="url(#hb3)"/><ellipse cx="1211" cy="712" rx="5" ry="22" fill="#e8e050" opacity="0.9" filter="url(#hb3)"/><ellipse cx="1211" cy="560" rx="4" ry="40" fill="#e0c838" opacity="0.8" filter="url(#hb3)"/><ellipse cx="1211" cy="850" rx="4" ry="70" fill="#c07030" opacity="0.8" filter="url(#hb3)"/><ellipse cx="1302" cy="465" rx="6" ry="55" fill="#cc9030" opacity="0.85" filter="url(#hb3)"/><ellipse cx="1292" cy="960" rx="6" ry="50" fill="#d4a030" opacity="0.9" filter="url(#hb3)"/><ellipse cx="1094" cy="870" rx="7" ry="45" fill="#d0a030" opacity="0.8" filter="url(#hb3)"/><ellipse cx="1068" cy="955" rx="6" ry="30" fill="#cc9430" opacity="0.7" filter="url(#hb3)"/><ellipse cx="1068" cy="1330" rx="12" ry="40" fill="#ffffa0" opacity="1.0" filter="url(#hb6)"/><ellipse cx="1076" cy="1275" rx="9" ry="50" fill="#e8d840" opacity="0.8" filter="url(#hb6)"/><ellipse cx="1066" cy="1336" rx="6" ry="16" fill="#ffffe8" opacity="1.0" filter="url(#hb3)"/><ellipse cx="1362" cy="1200" rx="8" ry="70" fill="#8a2068" opacity="0.7" filter="url(#hb6)"/><ellipse cx="930" cy="200" rx="34" ry="100" fill="#562070" opacity="0.35" filter="url(#hb6)"/><ellipse cx="900" cy="1310" rx="40" ry="50" fill="#602070" opacity="0.35" filter="url(#hb6)"/>
</g>
<!-- frame: dark outer line + pale inner line -->
<rect x="886" y="56.8" width="6" height="1286.4" fill="#c9a3c6"/>
<rect x="1527.6" y="56.8" width="4" height="1286.4" fill="#eac0cc"/>
<rect x="886" y="56.8" width="645.6" height="3.8" fill="#e2b2c8"/>
<rect x="886" y="1340.2" width="645.6" height="3" fill="#ecd0d0"/>
<rect x="884.1" y="54.6" width="649.7" height="1290.5" fill="none" stroke="#5a5058" stroke-width="4"/>
<line x1="936.0" y1="1342.2" x2="936.0" y2="1327.2" stroke="#3a2030" stroke-width="2.4"/><line x1="1073.7" y1="1342.2" x2="1073.7" y2="1327.2" stroke="#3a2030" stroke-width="2.4"/><line x1="1212.0" y1="1342.2" x2="1212.0" y2="1327.2" stroke="#3a2030" stroke-width="2.4"/><line x1="1347.5" y1="1342.2" x2="1347.5" y2="1327.2" stroke="#3a2030" stroke-width="2.4"/><line x1="1484.6" y1="1342.2" x2="1484.6" y2="1327.2" stroke="#3a2030" stroke-width="2.4"/><line x1="886" y1="114.2" x2="903" y2="114.2" stroke="#3a1838" stroke-width="2.4" opacity="0.55"/><line x1="886" y1="381.1" x2="903" y2="381.1" stroke="#3a1838" stroke-width="2.4" opacity="0.55"/><line x1="886" y1="648.6" x2="903" y2="648.6" stroke="#3a1838" stroke-width="2.4" opacity="0.55"/><line x1="886" y1="914.6" x2="903" y2="914.6" stroke="#3a1838" stroke-width="2.4" opacity="0.55"/><line x1="886" y1="1182.6" x2="903" y2="1182.6" stroke="#3a1838" stroke-width="2.4" opacity="0.55"/>
<path d="M1040.3,744.0 L1040.5,747.7 L1040.6,751.4 L1040.8,755.1 L1041.0,758.7 L1041.2,762.4 L1041.4,766.1 L1041.6,769.7 L1041.9,773.4 L1042.1,777.1 L1042.4,780.7 L1042.7,784.4 L1043.0,788.0 L1043.3,791.6 L1043.6,795.3 L1043.9,798.9 L1044.3,802.5 L1044.6,806.1 L1045.0,809.7 L1045.4,813.3 L1045.8,816.9 L1046.2,820.4 L1046.6,824.0 L1047.1,827.5 L1047.5,831.1 L1048.0,834.6 L1048.5,838.1 L1048.9,841.7 L1049.4,845.2 L1050.0,848.7 L1050.5,852.1 L1051.0,855.6 L1051.6,859.1 L1052.1,862.5 L1052.7,866.0 L1053.3,869.4 L1053.9,872.8 L1054.5,876.2 L1055.1,879.6 L1055.8,883.0 L1056.4,886.3 L1057.1,889.7 L1057.8,893.0 L1058.4,896.3 L1059.1,899.6 L1059.9,902.9 L1060.6,906.2 L1061.3,909.4 L1062.1,912.7 L1062.8,915.9 L1063.6,919.1 L1064.4,922.3 L1065.2,925.5 L1066.0,928.6 L1066.8,931.8 L1067.6,934.9 L1068.4,938.0 L1069.3,941.1 L1070.2,944.2 L1071.0,947.2 L1071.9,950.3 L1072.8,953.3 L1073.7,956.3 L1074.6,959.3 L1075.5,962.2 L1076.5,965.2 L1077.4,968.1 L1078.4,971.0 L1079.4,973.9 L1080.3,976.7 L1081.3,979.6 L1082.3,982.4 L1083.3,985.2 L1084.4,988.0 L1085.4,990.7 L1086.4,993.5 L1087.5,996.2 L1088.5,998.9 L1089.6,1001.5 L1090.7,1004.2 L1091.8,1006.8 L1092.9,1009.4 L1094.0,1012.0 L1095.1,1014.5 L1096.2,1017.1 L1097.3,1019.6 L1098.5,1022.0 L1099.6,1024.5 L1100.8,1026.9 L1102.0,1029.3 L1103.2,1031.7 L1104.3,1034.1 L1105.5,1036.4 L1106.7,1038.7 L1108.0,1041.0 L1109.2,1043.3 L1110.4,1045.5 L1111.6,1047.7 L1112.9,1049.9 L1114.1,1052.0 L1115.4,1054.2 L1116.7,1056.3 L1117.9,1058.3 L1119.2,1060.4 L1120.5,1062.4 L1121.8,1064.4 L1123.1,1066.4 L1124.4,1068.3 L1125.8,1070.2 L1127.1,1072.1 L1128.4,1073.9 L1129.7,1075.8 L1131.1,1077.6 L1132.4,1079.3 L1133.8,1081.1 L1135.2,1082.8 L1136.5,1084.5 L1137.9,1086.1 L1139.3,1087.8 L1140.7,1089.4 L1142.1,1090.9 L1143.5,1092.5 L1144.9,1094.0 L1146.3,1095.4 L1147.7,1096.9 L1149.1,1098.3 L1150.6,1099.7 L1152.0,1101.1 L1153.4,1102.4 L1154.9,1103.7 L1156.3,1105.0 L1157.8,1106.2 L1159.2,1107.4 L1160.7,1108.6 L1162.2,1109.7 L1163.6,1110.8 L1165.1,1111.9 L1166.6,1113.0 L1168.1,1114.0 L1169.5,1115.0 L1171.0,1116.0 L1172.5,1116.9 L1174.0,1117.8 L1175.5,1118.7 L1177.0,1119.5 L1178.5,1120.3 L1180.0,1121.1 L1181.5,1121.8 L1183.0,1122.5 L1184.5,1123.2 L1186.1,1123.8 L1187.6,1124.5 L1189.1,1125.0 L1190.6,1125.6 L1192.1,1126.1 L1193.7,1126.6 L1195.2,1127.0 L1196.7,1127.5 L1198.3,1127.8 L1199.8,1128.2 L1201.3,1128.5 L1202.9,1128.8 L1204.4,1129.1 L1205.9,1129.3 L1207.5,1129.5 L1209.0,1129.7 L1210.5,1129.8 L1212.1,1129.9 L1213.6,1130.0 L1215.2,1130.0 L1216.7,1130.0 L1218.2,1130.0 L1219.8,1129.9 L1221.3,1129.8 L1222.9,1129.7 L1224.4,1129.5 L1225.9,1129.3 L1227.5,1129.1 L1229.0,1128.8 L1230.5,1128.6 L1232.1,1128.2 L1233.6,1127.9 L1235.1,1127.5 L1236.7,1127.1 L1238.2,1126.6 L1239.7,1126.1 L1241.2,1125.6 L1242.8,1125.1 L1244.3,1124.5 L1245.8,1123.9 L1247.3,1123.3 L1248.8,1122.6 L1250.3,1121.9 L1251.9,1121.1 L1253.4,1120.4 L1254.9,1119.6 L1256.4,1118.7 L1257.9,1117.9 L1259.4,1117.0 L1260.8,1116.0 L1262.3,1115.1 L1263.8,1114.1 L1265.3,1113.1 L1266.8,1112.0 L1268.2,1110.9 L1269.7,1109.8 L1271.2,1108.7 L1272.6,1107.5 L1274.1,1106.3 L1275.5,1105.1 L1277.0,1103.8 L1278.4,1102.5 L1279.9,1101.2 L1281.3,1099.8 L1282.7,1098.4 L1284.2,1097.0 L1285.6,1095.6 L1287.0,1094.1 L1288.4,1092.6 L1289.8,1091.1 L1291.2,1089.5 L1292.6,1087.9 L1294.0,1086.3 L1295.3,1084.6 L1296.7,1082.9 L1298.1,1081.2 L1299.4,1079.5 L1300.8,1077.7 L1302.1,1075.9 L1303.5,1074.1 L1304.8,1072.3 L1306.1,1070.4 L1307.5,1068.5 L1308.8,1066.5 L1310.1,1064.6 L1311.4,1062.6 L1312.7,1060.6 L1313.9,1058.5 L1315.2,1056.4 L1316.5,1054.3 L1317.8,1052.2 L1319.0,1050.1 L1320.3,1047.9 L1321.5,1045.7 L1322.7,1043.5 L1323.9,1041.2 L1325.2,1038.9 L1326.4,1036.6 L1327.6,1034.3 L1328.7,1031.9 L1329.9,1029.5 L1331.1,1027.1 L1332.3,1024.7 L1333.4,1022.3 L1334.6,1019.8 L1335.7,1017.3 L1336.8,1014.7 L1337.9,1012.2 L1339.0,1009.6 L1340.1,1007.0 L1341.2,1004.4 L1342.3,1001.8 L1343.4,999.1 L1344.4,996.4 L1345.5,993.7 L1346.5,991.0 L1347.6,988.2 L1348.6,985.4 L1349.6,982.6 L1350.6,979.8 L1351.6,977.0 L1352.6,974.1 L1353.5,971.3 L1354.5,968.4 L1355.4,965.4 L1356.4,962.5 L1357.3,959.5 L1358.2,956.6 L1359.1,953.6 L1360.0,950.5 L1360.9,947.5 L1361.8,944.5 L1362.6,941.4 L1363.5,938.3 L1364.3,935.2 L1365.2,932.1 L1366.0,928.9 L1366.8,925.8 L1367.6,922.6 L1368.3,919.4 L1369.1,916.2 L1369.9,913.0 L1370.6,909.7 L1371.4,906.5 L1372.1,903.2 L1372.8,899.9 L1373.5,896.6 L1374.2,893.3 L1374.9,890.0 L1375.5,886.6 L1376.2,883.3 L1376.8,879.9 L1377.4,876.5 L1378.0,873.1 L1378.7,869.7 L1379.2,866.3 L1379.8,862.8 L1380.4,859.4 L1380.9,855.9 L1381.5,852.4 L1382.0,849.0 L1382.5,845.5 L1383.0,842.0 L1383.5,838.5 L1384.0,834.9 L1384.4,831.4 L1384.9,827.9 L1385.3,824.3 L1385.8,820.7 L1386.2,817.2 L1386.6,813.6 L1387.0,810.0 L1387.3,806.4 L1387.7,802.8 L1388.0,799.2 L1388.4,795.6 L1388.7,791.9 L1389.0,788.3 L1389.3,784.7 L1389.6,781.0 L1389.8,777.4 L1390.1,773.7 L1390.3,770.1 L1390.6,766.4 L1390.8,762.7 L1391.0,759.1 L1391.2,755.4 L1391.3,751.7 L1391.5,748.0 L1391.7,744.3 L1391.8,740.6 L1391.9,736.9 L1392.0,733.2 L1392.1,729.5 L1392.2,725.8 L1392.3,722.1 L1392.3,718.4 L1392.4,714.7 L1392.4,711.0 L1392.4,707.3 L1392.4,703.6 L1392.4,699.9 L1392.4,696.2 L1392.3,692.5 L1392.3,688.8 L1392.2,685.1 L1392.1,681.4 L1392.0,677.7 L1391.9,674.0 L1391.8,670.3 L1391.7,666.6 L1391.5,662.9 L1391.4,659.2 L1391.2,655.5 L1391.0,651.9 L1390.8,648.2 L1390.6,644.5 L1390.4,640.9 L1390.1,637.2 L1389.9,633.5 L1389.6,629.9 L1389.3,626.2 L1389.0,622.6 L1388.7,619.0 L1388.4,615.3 L1388.1,611.7 L1387.7,608.1 L1387.4,604.5 L1387.0,600.9 L1386.6,597.3 L1386.2,593.7 L1385.8,590.2 L1385.4,586.6 L1384.9,583.1 L1384.5,579.5 L1384.0,576.0 L1383.5,572.5 L1383.1,568.9 L1382.6,565.4 L1382.0,561.9 L1381.5,558.5 L1381.0,555.0 L1380.4,551.5 L1379.9,548.1 L1379.3,544.6 L1378.7,541.2 L1378.1,537.8 L1377.5,534.4 L1376.9,531.0 L1376.2,527.6 L1375.6,524.3 L1374.9,520.9 L1374.2,517.6 L1373.6,514.3 L1372.9,511.0 L1372.1,507.7 L1371.4,504.4 L1370.7,501.2 L1369.9,497.9 L1369.2,494.7 L1368.4,491.5 L1367.6,488.3 L1366.8,485.1 L1366.0,482.0 L1365.2,478.8 L1364.4,475.7 L1363.6,472.6 L1362.7,469.5 L1361.8,466.4 L1361.0,463.4 L1360.1,460.3 L1359.2,457.3 L1358.3,454.3 L1357.4,451.3 L1356.5,448.4 L1355.5,445.4 L1354.6,442.5 L1353.6,439.6 L1352.6,436.7 L1351.7,433.9 L1350.7,431.0 L1349.7,428.2 L1348.7,425.4 L1347.6,422.6 L1346.6,419.9 L1345.6,417.1 L1344.5,414.4 L1343.5,411.7 L1342.4,409.1 L1341.3,406.4 L1340.2,403.8 L1339.1,401.2 L1338.0,398.6 L1336.9,396.1 L1335.8,393.5 L1334.7,391.0 L1333.5,388.6 L1332.4,386.1 L1331.2,383.7 L1330.0,381.3 L1328.8,378.9 L1327.7,376.5 L1326.5,374.2 L1325.3,371.9 L1324.0,369.6 L1322.8,367.3 L1321.6,365.1 L1320.4,362.9 L1319.1,360.7 L1317.9,358.6 L1316.6,356.4 L1315.3,354.3 L1314.1,352.3 L1312.8,350.2 L1311.5,348.2 L1310.2,346.2 L1308.9,344.2 L1307.6,342.3 L1306.2,340.4 L1304.9,338.5 L1303.6,336.7 L1302.3,334.8 L1300.9,333.0 L1299.6,331.3 L1298.2,329.5 L1296.8,327.8 L1295.5,326.1 L1294.1,324.5 L1292.7,322.8 L1291.3,321.2 L1289.9,319.7 L1288.5,318.1 L1287.1,316.6 L1285.7,315.2 L1284.3,313.7 L1282.9,312.3 L1281.4,310.9 L1280.0,309.5 L1278.6,308.2 L1277.1,306.9 L1275.7,305.6 L1274.2,304.4 L1272.8,303.2 L1271.3,302.0 L1269.8,300.9 L1268.4,299.8 L1266.9,298.7 L1265.4,297.6 L1263.9,296.6 L1262.5,295.6 L1261.0,294.6 L1259.5,293.7 L1258.0,292.8 L1256.5,291.9 L1255.0,291.1 L1253.5,290.3 L1252.0,289.5 L1250.5,288.8 L1249.0,288.1 L1247.5,287.4 L1245.9,286.8 L1244.4,286.1 L1242.9,285.6 L1241.4,285.0 L1239.9,284.5 L1238.3,284.0 L1236.8,283.6 L1235.3,283.1 L1233.7,282.8 L1232.2,282.4 L1230.7,282.1 L1229.1,281.8 L1227.6,281.5 L1226.1,281.3 L1224.5,281.1 L1223.0,280.9 L1221.5,280.8 L1219.9,280.7 L1218.4,280.6 L1216.8,280.6 L1215.3,280.6 L1213.8,280.6 L1212.2,280.7 L1210.7,280.8 L1209.1,280.9 L1207.6,281.1 L1206.1,281.3 L1204.5,281.5 L1203.0,281.8 L1201.5,282.0 L1199.9,282.4 L1198.4,282.7 L1196.9,283.1 L1195.3,283.5 L1193.8,284.0 L1192.3,284.5 L1190.8,285.0 L1189.2,285.5 L1187.7,286.1 L1186.2,286.7 L1184.7,287.3 L1183.2,288.0 L1181.7,288.7 L1180.1,289.5 L1178.6,290.2 L1177.1,291.0 L1175.6,291.9 L1174.1,292.7 L1172.6,293.6 L1171.2,294.6 L1169.7,295.5 L1168.2,296.5 L1166.7,297.5 L1165.2,298.6 L1163.8,299.7 L1162.3,300.8 L1160.8,301.9 L1159.4,303.1 L1157.9,304.3 L1156.5,305.5 L1155.0,306.8 L1153.6,308.1 L1152.1,309.4 L1150.7,310.8 L1149.3,312.2 L1147.8,313.6 L1146.4,315.0 L1145.0,316.5 L1143.6,318.0 L1142.2,319.5 L1140.8,321.1 L1139.4,322.7 L1138.0,324.3 L1136.7,326.0 L1135.3,327.7 L1133.9,329.4 L1132.6,331.1 L1131.2,332.9 L1129.9,334.7 L1128.5,336.5 L1127.2,338.3 L1125.9,340.2 L1124.5,342.1 L1123.2,344.1 L1121.9,346.0 L1120.6,348.0 L1119.3,350.0 L1118.1,352.1 L1116.8,354.2 L1115.5,356.3 L1114.2,358.4 L1113.0,360.5 L1111.7,362.7 L1110.5,364.9 L1109.3,367.1 L1108.1,369.4 L1106.8,371.7 L1105.6,374.0 L1104.4,376.3 L1103.3,378.7 L1102.1,381.1 L1100.9,383.5 L1099.7,385.9 L1098.6,388.3 L1097.4,390.8 L1096.3,393.3 L1095.2,395.9 L1094.1,398.4 L1093.0,401.0 L1091.9,403.6 L1090.8,406.2 L1089.7,408.8 L1088.6,411.5 L1087.6,414.2 L1086.5,416.9 L1085.5,419.6 L1084.4,422.4 L1083.4,425.2 L1082.4,428.0 L1081.4,430.8 L1080.4,433.6 L1079.4,436.5 L1078.5,439.3 L1077.5,442.2 L1076.6,445.2 L1075.6,448.1 L1074.7,451.1 L1073.8,454.0 L1072.9,457.0 L1072.0,460.1 L1071.1,463.1 L1070.2,466.1 L1069.4,469.2 L1068.5,472.3 L1067.7,475.4 L1066.8,478.5 L1066.0,481.7 L1065.2,484.8 L1064.4,488.0 L1063.7,491.2 L1062.9,494.4 L1062.1,497.6 L1061.4,500.9 L1060.6,504.1 L1059.9,507.4 L1059.2,510.7 L1058.5,514.0 L1057.8,517.3 L1057.1,520.6 L1056.5,524.0 L1055.8,527.3 L1055.2,530.7 L1054.6,534.1 L1054.0,537.5 L1053.3,540.9 L1052.8,544.3 L1052.2,547.8 L1051.6,551.2 L1051.1,554.7 L1050.5,558.2 L1050.0,561.6 L1049.5,565.1 L1049.0,568.6 L1048.5,572.1 L1048.0,575.7 L1047.6,579.2 L1047.1,582.7 L1046.7,586.3 L1046.2,589.9 L1045.8,593.4 L1045.4,597.0 L1045.0,600.6 L1044.7,604.2 L1044.3,607.8 L1044.0,611.4 L1043.6,615.0 L1043.3,618.7 L1043.0,622.3 L1042.7,625.9 L1042.4,629.6 L1042.2,633.2 L1041.9,636.9 L1041.7,640.5 L1041.4,644.2 L1041.2,647.9 L1041.0,651.5 L1040.8,655.2 L1040.7,658.9 L1040.5,662.6 L1040.3,666.3 L1040.2,670.0 L1040.1,673.7 L1040.0,677.4 L1039.9,681.1 L1039.8,684.8 L1039.7,688.5 L1039.7,692.2 L1039.6,695.9 L1039.6,699.6 L1039.6,703.3 L1039.6,707.0 L1039.6,710.7 L1039.6,714.4 L1039.7,718.1 L1039.7,721.8 L1039.8,725.5 L1039.9,729.2 L1040.0,732.9 L1040.1,736.6 L1040.2,740.3 L1040.3,744.0" fill="none" stroke="#ffff00" stroke-width="12.5" stroke-dasharray="46.9 35.96"/>
<!-- colour bar -->
<rect x="1576.5" y="157.5" width="37" height="1102" fill="url(#cbar)" stroke="#4a4638" stroke-width="3"/>
<rect x="1579.5" y="160" width="2.5" height="1060" fill="#fff" opacity="0.35"/>
<rect x="1608" y="160" width="2.5" height="1060" fill="#fff" opacity="0.35"/>
<text x="938" y="1440.3" font-size="70" text-anchor="middle" fill="#111">-4</text><text x="1073" y="1440.3" font-size="70" text-anchor="middle" fill="#111">-2</text><text x="1213" y="1440.3" font-size="70" text-anchor="middle" fill="#111">0</text><text x="1349" y="1440.3" font-size="70" text-anchor="middle" fill="#111">2</text><text x="1483.2" y="1440.3" font-size="70" text-anchor="middle" fill="#111">4</text><text x="873.6" y="143.0" font-size="70" text-anchor="end" fill="#111">10</text><text x="867.6" y="409.2" font-size="70" text-anchor="end" fill="#111">5</text><text x="866.4" y="678.9" font-size="70" text-anchor="end" fill="#111">0</text><text x="872.6" y="945.2" font-size="70" text-anchor="end" fill="#111">-5</text><text x="875.1" y="1211.2" font-size="70" text-anchor="end" fill="#111">-10</text><text x="986" y="1507.6" font-size="69.5" textLength="444" lengthAdjust="spacingAndGlyphs" fill="#111">Energy (meV)</text><text transform="translate(760.5,702.5) rotate(-90)" font-size="72" text-anchor="middle" fill="#111">Distance (nm)</text><text x="1540.5" y="123" font-size="65.5" fill="#111">High</text><text x="1543.6" y="1340.3" font-size="61" fill="#111">Low</text>

</svg>
</body></html>
